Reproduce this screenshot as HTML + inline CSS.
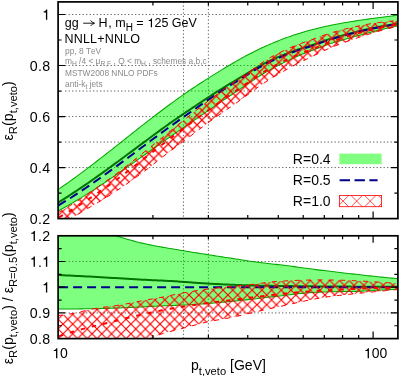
<!DOCTYPE html>
<html><head><meta charset="utf-8"><title>jet veto efficiency</title>
<style>html,body{margin:0;padding:0;background:#fff;}svg{display:block;will-change:transform;}text{font-family:"Liberation Sans", sans-serif;fill:#000;font-kerning:none;}</style></head><body>
<svg width="399" height="376" viewBox="0 0 399 376">
<rect x="0" y="0" width="399" height="376" fill="#fff"/>
<defs>
<clipPath id="cu"><rect x="58.1" y="1.9" width="339.79999999999995" height="216.7"/></clipPath>
<clipPath id="cl"><rect x="58.1" y="235.8" width="339.79999999999995" height="102.80000000000001"/></clipPath>
<pattern id="hxU" patternUnits="userSpaceOnUse" x="115.30" y="177.80" width="9.62" height="9.62"><path d="M0,0 L9.62,9.62 M9.62,0 L0,9.62" stroke="#ff0000" stroke-width="1.2" fill="none" stroke-linecap="square"/></pattern>
<pattern id="hxL" patternUnits="userSpaceOnUse" x="63.00" y="333.80" width="9.7" height="9.7"><path d="M0,0 L9.7,9.7 M9.7,0 L0,9.7" stroke="#ff0000" stroke-width="1.2" fill="none" stroke-linecap="square"/></pattern>
<clipPath id="cru"><path d="M58.10,212.66 L60.10,211.54 L62.10,210.40 L64.10,209.24 L66.10,208.06 L68.09,206.87 L70.09,205.65 L72.09,204.42 L74.09,203.17 L76.09,201.89 L78.09,200.58 L80.09,199.26 L82.09,197.91 L84.08,196.54 L86.08,195.17 L88.08,193.78 L90.08,192.38 L92.08,190.98 L94.08,189.58 L96.08,188.19 L98.08,186.79 L100.08,185.39 L102.07,183.98 L104.07,182.57 L106.07,181.16 L108.07,179.73 L110.07,178.30 L112.07,176.86 L114.07,175.40 L116.07,173.94 L118.06,172.46 L120.06,170.96 L122.06,169.45 L124.06,167.92 L126.06,166.38 L128.06,164.82 L130.06,163.25 L132.06,161.68 L134.06,160.09 L136.05,158.50 L138.05,156.91 L140.05,155.32 L142.05,153.73 L144.05,152.14 L146.05,150.55 L148.05,148.96 L150.05,147.37 L152.04,145.77 L154.04,144.18 L156.04,142.58 L158.04,140.98 L160.04,139.38 L162.04,137.76 L164.04,136.15 L166.04,134.53 L168.04,132.90 L170.03,131.28 L172.03,129.65 L174.03,128.03 L176.03,126.41 L178.03,124.80 L180.03,123.19 L182.03,121.59 L184.03,120.00 L186.02,118.41 L188.02,116.82 L190.02,115.24 L192.02,113.65 L194.02,112.07 L196.02,110.49 L198.02,108.91 L200.02,107.34 L202.02,105.77 L204.01,104.22 L206.01,102.67 L208.01,101.13 L210.01,99.61 L212.01,98.10 L214.01,96.60 L216.01,95.11 L218.01,93.63 L220.00,92.17 L222.00,90.72 L224.00,89.28 L226.00,87.85 L228.00,86.44 L230.00,85.03 L232.00,83.63 L234.00,82.23 L236.00,80.85 L237.99,79.47 L239.99,78.10 L241.99,76.72 L243.99,75.34 L245.99,73.96 L247.99,72.56 L249.99,71.16 L251.99,69.75 L253.98,68.34 L255.98,66.92 L257.98,65.51 L259.98,64.12 L261.98,62.75 L263.98,61.42 L265.98,60.13 L267.98,58.88 L269.98,57.69 L271.97,56.55 L273.97,55.46 L275.97,54.42 L277.97,53.43 L279.97,52.46 L281.97,51.50 L283.97,50.57 L285.97,49.65 L287.96,48.74 L289.96,47.85 L291.96,46.98 L293.96,46.14 L295.96,45.33 L297.96,44.55 L299.96,43.81 L301.96,43.09 L303.96,42.40 L305.95,41.71 L307.95,41.02 L309.95,40.32 L311.95,39.61 L313.95,38.87 L315.95,38.12 L317.95,37.37 L319.95,36.62 L321.94,35.89 L323.94,35.18 L325.94,34.50 L327.94,33.85 L329.94,33.22 L331.94,32.63 L333.94,32.05 L335.94,31.49 L337.94,30.94 L339.93,30.40 L341.93,29.87 L343.93,29.35 L345.93,28.85 L347.93,28.36 L349.93,27.89 L351.93,27.43 L353.93,26.99 L355.92,26.56 L357.92,26.13 L359.92,25.72 L361.92,25.32 L363.92,24.94 L365.92,24.57 L367.92,24.22 L369.92,23.89 L371.92,23.56 L373.91,23.26 L375.91,22.96 L377.91,22.67 L379.91,22.40 L381.91,22.14 L383.91,21.89 L385.91,21.65 L387.91,21.43 L389.90,21.22 L391.90,21.02 L393.90,20.84 L395.90,20.66 L397.90,20.50 L397.90,26.25 L395.90,26.73 L393.90,27.22 L391.90,27.72 L389.90,28.23 L387.91,28.75 L385.91,29.28 L383.91,29.81 L381.91,30.36 L379.91,30.92 L377.91,31.48 L375.91,32.06 L373.91,32.65 L371.92,33.25 L369.92,33.86 L367.92,34.47 L365.92,35.10 L363.92,35.74 L361.92,36.39 L359.92,37.04 L357.92,37.71 L355.92,38.39 L353.93,39.07 L351.93,39.76 L349.93,40.47 L347.93,41.18 L345.93,41.90 L343.93,42.63 L341.93,43.37 L339.93,44.11 L337.94,44.85 L335.94,45.61 L333.94,46.38 L331.94,47.17 L329.94,48.00 L327.94,48.87 L325.94,49.79 L323.94,50.73 L321.94,51.70 L319.95,52.67 L317.95,53.63 L315.95,54.59 L313.95,55.55 L311.95,56.52 L309.95,57.50 L307.95,58.48 L305.95,59.47 L303.96,60.46 L301.96,61.45 L299.96,62.44 L297.96,63.45 L295.96,64.47 L293.96,65.52 L291.96,66.58 L289.96,67.67 L287.96,68.77 L285.97,69.89 L283.97,71.02 L281.97,72.15 L279.97,73.29 L277.97,74.43 L275.97,75.58 L273.97,76.75 L271.97,77.94 L269.98,79.17 L267.98,80.44 L265.98,81.75 L263.98,83.08 L261.98,84.45 L259.98,85.82 L257.98,87.22 L255.98,88.63 L253.98,90.08 L251.99,91.55 L249.99,93.03 L247.99,94.50 L245.99,95.96 L243.99,97.40 L241.99,98.85 L239.99,100.29 L237.99,101.73 L236.00,103.16 L234.00,104.57 L232.00,105.98 L230.00,107.36 L228.00,108.74 L226.00,110.12 L224.00,111.50 L222.00,112.89 L220.00,114.28 L218.01,115.67 L216.01,117.07 L214.01,118.47 L212.01,119.89 L210.01,121.33 L208.01,122.79 L206.01,124.27 L204.01,125.77 L202.02,127.28 L200.02,128.79 L198.02,130.30 L196.02,131.82 L194.02,133.34 L192.02,134.87 L190.02,136.40 L188.02,137.93 L186.02,139.44 L184.03,140.93 L182.03,142.42 L180.03,143.90 L178.03,145.37 L176.03,146.85 L174.03,148.34 L172.03,149.82 L170.03,151.30 L168.04,152.78 L166.04,154.27 L164.04,155.78 L162.04,157.31 L160.04,158.89 L158.04,160.51 L156.04,162.15 L154.04,163.79 L152.04,165.39 L150.05,166.94 L148.05,168.45 L146.05,169.95 L144.05,171.44 L142.05,172.91 L140.05,174.38 L138.05,175.84 L136.05,177.29 L134.06,178.73 L132.06,180.15 L130.06,181.57 L128.06,182.98 L126.06,184.37 L124.06,185.75 L122.06,187.12 L120.06,188.48 L118.06,189.82 L116.07,191.16 L114.07,192.48 L112.07,193.78 L110.07,195.08 L108.07,196.36 L106.07,197.63 L104.07,198.88 L102.07,200.08 L100.08,201.26 L98.08,202.41 L96.08,203.56 L94.08,204.70 L92.08,205.86 L90.08,207.05 L88.08,208.24 L86.08,209.44 L84.08,210.65 L82.09,211.86 L80.09,213.08 L78.09,214.29 L76.09,215.51 L74.09,216.72 L72.09,217.94 L70.09,219.15 L68.09,220.36 L66.10,221.58 L64.10,222.79 L62.10,224.01 L60.10,225.22 L58.10,226.44Z"/></clipPath>
<clipPath id="crl"><path d="M58.10,315.59 L60.10,315.35 L62.10,315.09 L64.10,314.82 L66.10,314.53 L68.09,314.23 L70.09,313.91 L72.09,313.57 L74.09,313.21 L76.09,312.80 L78.09,312.36 L80.09,311.89 L82.09,311.41 L84.08,310.92 L86.08,310.43 L88.08,309.95 L90.08,309.49 L92.08,309.06 L94.08,308.66 L96.08,308.32 L98.08,308.00 L100.08,307.70 L102.07,307.42 L104.07,307.16 L106.07,306.90 L108.07,306.65 L110.07,306.39 L112.07,306.14 L114.07,305.87 L116.07,305.60 L118.06,305.30 L120.06,304.99 L122.06,304.65 L124.06,304.30 L126.06,303.93 L128.06,303.54 L130.06,303.15 L132.06,302.75 L134.06,302.35 L136.05,301.95 L138.05,301.55 L140.05,301.17 L142.05,300.79 L144.05,300.43 L146.05,300.07 L148.05,299.72 L150.05,299.37 L152.04,299.03 L154.04,298.68 L156.04,298.32 L158.04,297.96 L160.04,297.59 L162.04,297.21 L164.04,296.81 L166.04,296.41 L168.04,296.00 L170.03,295.58 L172.03,295.16 L174.03,294.74 L176.03,294.33 L178.03,293.93 L180.03,293.54 L182.03,293.16 L184.03,292.80 L186.02,292.44 L188.02,292.10 L190.02,291.75 L192.02,291.42 L194.02,291.09 L196.02,290.76 L198.02,290.44 L200.02,290.14 L202.02,289.84 L204.01,289.55 L206.01,289.27 L208.01,289.00 L210.01,288.74 L212.01,288.49 L214.01,288.24 L216.01,288.01 L218.01,287.78 L220.00,287.55 L222.00,287.33 L224.00,287.12 L226.00,286.91 L228.00,286.70 L230.00,286.50 L232.00,286.30 L234.00,286.11 L236.00,285.93 L237.99,285.76 L239.99,285.59 L241.99,285.43 L243.99,285.26 L245.99,285.08 L247.99,284.90 L249.99,284.70 L251.99,284.48 L253.98,284.24 L255.98,283.98 L257.98,283.71 L259.98,283.43 L261.98,283.14 L263.98,282.86 L265.98,282.58 L267.98,282.32 L269.98,282.08 L271.97,281.86 L273.97,281.66 L275.97,281.50 L277.97,281.36 L279.97,281.23 L281.97,281.11 L283.97,280.99 L285.97,280.88 L287.96,280.77 L289.96,280.68 L291.96,280.59 L293.96,280.50 L295.96,280.43 L297.96,280.36 L299.96,280.30 L301.96,280.24 L303.96,280.19 L305.95,280.13 L307.95,280.08 L309.95,280.03 L311.95,279.99 L313.95,279.95 L315.95,279.92 L317.95,279.91 L319.95,279.90 L321.94,279.90 L323.94,279.92 L325.94,279.94 L327.94,279.96 L329.94,279.99 L331.94,280.03 L333.94,280.07 L335.94,280.11 L337.94,280.15 L339.93,280.20 L341.93,280.25 L343.93,280.31 L345.93,280.37 L347.93,280.45 L349.93,280.53 L351.93,280.62 L353.93,280.71 L355.92,280.80 L357.92,280.90 L359.92,281.00 L361.92,281.10 L363.92,281.20 L365.92,281.31 L367.92,281.43 L369.92,281.55 L371.92,281.68 L373.91,281.80 L375.91,281.93 L377.91,282.06 L379.91,282.19 L381.91,282.33 L383.91,282.46 L385.91,282.60 L387.91,282.74 L389.90,282.89 L391.90,283.04 L393.90,283.19 L395.90,283.34 L397.90,283.49 L397.90,289.51 L395.90,289.70 L393.90,289.88 L391.90,290.07 L389.90,290.26 L387.91,290.45 L385.91,290.64 L383.91,290.83 L381.91,291.03 L379.91,291.22 L377.91,291.42 L375.91,291.61 L373.91,291.81 L371.92,292.01 L369.92,292.21 L367.92,292.41 L365.92,292.61 L363.92,292.81 L361.92,293.01 L359.92,293.22 L357.92,293.42 L355.92,293.63 L353.93,293.83 L351.93,294.04 L349.93,294.25 L347.93,294.47 L345.93,294.68 L343.93,294.90 L341.93,295.12 L339.93,295.33 L337.94,295.55 L335.94,295.77 L333.94,296.00 L331.94,296.25 L329.94,296.51 L327.94,296.79 L325.94,297.08 L323.94,297.40 L321.94,297.72 L319.95,298.06 L317.95,298.41 L315.95,298.77 L313.95,299.14 L311.95,299.51 L309.95,299.89 L307.95,300.29 L305.95,300.71 L303.96,301.13 L301.96,301.57 L299.96,302.02 L297.96,302.46 L295.96,302.92 L293.96,303.37 L291.96,303.82 L289.96,304.27 L287.96,304.71 L285.97,305.14 L283.97,305.58 L281.97,306.02 L279.97,306.45 L277.97,306.89 L275.97,307.33 L273.97,307.77 L271.97,308.21 L269.98,308.65 L267.98,309.10 L265.98,309.55 L263.98,310.00 L261.98,310.47 L259.98,310.94 L257.98,311.41 L255.98,311.89 L253.98,312.37 L251.99,312.84 L249.99,313.30 L247.99,313.76 L245.99,314.22 L243.99,314.68 L241.99,315.13 L239.99,315.58 L237.99,316.03 L236.00,316.46 L234.00,316.89 L232.00,317.30 L230.00,317.70 L228.00,318.08 L226.00,318.45 L224.00,318.81 L222.00,319.16 L220.00,319.51 L218.01,319.86 L216.01,320.22 L214.01,320.59 L212.01,320.97 L210.01,321.38 L208.01,321.80 L206.01,322.24 L204.01,322.71 L202.02,323.20 L200.02,323.71 L198.02,324.22 L196.02,324.75 L194.02,325.29 L192.02,325.83 L190.02,326.38 L188.02,326.92 L186.02,327.46 L184.03,327.99 L182.03,328.51 L180.03,329.02 L178.03,329.52 L176.03,330.02 L174.03,330.52 L172.03,331.03 L170.03,331.55 L168.04,332.08 L166.04,332.64 L164.04,333.22 L162.04,333.84 L160.04,334.49 L158.04,335.26 L156.04,336.17 L154.04,337.11 L152.04,337.95 L150.05,338.59 L148.05,339.06 L146.05,339.50 L144.05,339.92 L142.05,340.31 L140.05,340.68 L138.05,341.03 L136.05,341.36 L134.06,341.67 L132.06,341.97 L130.06,342.25 L128.06,342.52 L126.06,342.78 L124.06,343.03 L122.06,343.27 L120.06,343.51 L118.06,343.74 L116.07,343.97 L114.07,344.21 L112.07,344.44 L110.07,344.68 L108.07,344.92 L106.07,345.18 L104.07,345.44 L102.07,345.71 L100.08,345.99 L98.08,346.28 L96.08,346.57 L94.08,346.86 L92.08,347.15 L90.08,347.44 L88.08,347.72 L86.08,348.01 L84.08,348.30 L82.09,348.58 L80.09,348.87 L78.09,349.16 L76.09,349.44 L74.09,349.73 L72.09,350.01 L70.09,350.29 L68.09,350.58 L66.10,350.86 L64.10,351.14 L62.10,351.42 L60.10,351.70 L58.10,351.99Z"/></clipPath>
</defs>
<path d="M65.1,14.50 H397.9 M65.1,65.52 H397.9 M65.1,91.03 H397.9 M65.1,116.54 H397.9 M65.1,142.05 H397.9 M65.1,167.56 H397.9 M65.1,261.50 H397.9 M65.1,312.90 H397.9 M183.45,1.9 V218.6 M183.45,235.8 V338.6 M208.39,1.9 V218.6 M208.39,235.8 V338.6" stroke="#000" stroke-width="0.8" stroke-dasharray="1.2 2.3" fill="none" opacity="0.62"/>
<g clip-path="url(#cu)">
<path d="M58.10,189.46 L60.10,188.11 L62.10,186.74 L64.10,185.36 L66.10,183.96 L68.09,182.56 L70.09,181.14 L72.09,179.71 L74.09,178.27 L76.09,176.81 L78.09,175.35 L80.09,173.88 L82.09,172.39 L84.08,170.90 L86.08,169.40 L88.08,167.89 L90.08,166.38 L92.08,164.86 L94.08,163.33 L96.08,161.79 L98.08,160.25 L100.08,158.70 L102.07,157.14 L104.07,155.58 L106.07,154.02 L108.07,152.46 L110.07,150.88 L112.07,149.31 L114.07,147.74 L116.07,146.16 L118.06,144.58 L120.06,143.00 L122.06,141.41 L124.06,139.83 L126.06,138.25 L128.06,136.67 L130.06,135.08 L132.06,133.50 L134.06,131.93 L136.05,130.35 L138.05,128.77 L140.05,127.20 L142.05,125.64 L144.05,124.07 L146.05,122.51 L148.05,120.96 L150.05,119.41 L152.04,117.86 L154.04,116.32 L156.04,114.79 L158.04,113.27 L160.04,111.75 L162.04,110.24 L164.04,108.74 L166.04,107.24 L168.04,105.76 L170.03,104.28 L172.03,102.82 L174.03,101.36 L176.03,99.92 L178.03,98.48 L180.03,97.06 L182.03,95.65 L184.03,94.25 L186.02,92.87 L188.02,91.49 L190.02,90.13 L192.02,88.78 L194.02,87.44 L196.02,86.11 L198.02,84.80 L200.02,83.49 L202.02,82.19 L204.01,80.90 L206.01,79.62 L208.01,78.35 L210.01,77.08 L212.01,75.83 L214.01,74.58 L216.01,73.34 L218.01,72.11 L220.00,70.88 L222.00,69.66 L224.00,68.45 L226.00,67.24 L228.00,66.04 L230.00,64.86 L232.00,63.68 L234.00,62.52 L236.00,61.37 L237.99,60.23 L239.99,59.10 L241.99,58.00 L243.99,56.90 L245.99,55.83 L247.99,54.77 L249.99,53.73 L251.99,52.70 L253.98,51.69 L255.98,50.70 L257.98,49.73 L259.98,48.77 L261.98,47.83 L263.98,46.91 L265.98,46.00 L267.98,45.11 L269.98,44.24 L271.97,43.38 L273.97,42.54 L275.97,41.72 L277.97,40.91 L279.97,40.12 L281.97,39.35 L283.97,38.59 L285.97,37.85 L287.96,37.13 L289.96,36.42 L291.96,35.73 L293.96,35.06 L295.96,34.40 L297.96,33.76 L299.96,33.13 L301.96,32.52 L303.96,31.93 L305.95,31.35 L307.95,30.79 L309.95,30.24 L311.95,29.71 L313.95,29.19 L315.95,28.68 L317.95,28.19 L319.95,27.71 L321.94,27.25 L323.94,26.79 L325.94,26.35 L327.94,25.92 L329.94,25.50 L331.94,25.09 L333.94,24.69 L335.94,24.31 L337.94,23.93 L339.93,23.56 L341.93,23.20 L343.93,22.84 L345.93,22.50 L347.93,22.16 L349.93,21.83 L351.93,21.51 L353.93,21.19 L355.92,20.88 L357.92,20.58 L359.92,20.28 L361.92,19.98 L363.92,19.69 L365.92,19.41 L367.92,19.13 L369.92,18.85 L371.92,18.57 L373.91,18.30 L375.91,18.03 L377.91,17.76 L379.91,17.49 L381.91,17.23 L383.91,16.96 L385.91,16.70 L387.91,16.43 L389.90,16.17 L391.90,15.90 L393.90,15.63 L395.90,15.36 L397.90,15.09 L397.90,25.96 L395.90,26.36 L393.90,26.78 L391.90,27.20 L389.90,27.63 L387.91,28.06 L385.91,28.51 L383.91,28.97 L381.91,29.43 L379.91,29.90 L377.91,30.39 L375.91,30.88 L373.91,31.38 L371.92,31.90 L369.92,32.43 L367.92,32.97 L365.92,33.52 L363.92,34.08 L361.92,34.64 L359.92,35.20 L357.92,35.76 L355.92,36.31 L353.93,36.86 L351.93,37.40 L349.93,37.95 L347.93,38.50 L345.93,39.06 L343.93,39.62 L341.93,40.19 L339.93,40.76 L337.94,41.34 L335.94,41.93 L333.94,42.53 L331.94,43.15 L329.94,43.79 L327.94,44.45 L325.94,45.15 L323.94,45.87 L321.94,46.62 L319.95,47.39 L317.95,48.17 L315.95,48.96 L313.95,49.74 L311.95,50.50 L309.95,51.26 L307.95,52.02 L305.95,52.78 L303.96,53.56 L301.96,54.35 L299.96,55.18 L297.96,56.03 L295.96,56.92 L293.96,57.84 L291.96,58.77 L289.96,59.72 L287.96,60.67 L285.97,61.63 L283.97,62.60 L281.97,63.59 L279.97,64.58 L277.97,65.59 L275.97,66.62 L273.97,67.67 L271.97,68.74 L269.98,69.84 L267.98,70.97 L265.98,72.13 L263.98,73.32 L261.98,74.55 L259.98,75.81 L257.98,77.09 L255.98,78.40 L253.98,79.73 L251.99,81.07 L249.99,82.42 L247.99,83.77 L245.99,85.11 L243.99,86.46 L241.99,87.80 L239.99,89.14 L237.99,90.47 L236.00,91.80 L234.00,93.13 L232.00,94.46 L230.00,95.79 L228.00,97.12 L226.00,98.46 L224.00,99.80 L222.00,101.15 L220.00,102.50 L218.01,103.86 L216.01,105.22 L214.01,106.59 L212.01,107.96 L210.01,109.33 L208.01,110.71 L206.01,112.08 L204.01,113.47 L202.02,114.85 L200.02,116.23 L198.02,117.62 L196.02,119.00 L194.02,120.38 L192.02,121.76 L190.02,123.14 L188.02,124.52 L186.02,125.89 L184.03,127.26 L182.03,128.63 L180.03,129.99 L178.03,131.36 L176.03,132.73 L174.03,134.10 L172.03,135.47 L170.03,136.85 L168.04,138.23 L166.04,139.62 L164.04,141.01 L162.04,142.41 L160.04,143.81 L158.04,145.23 L156.04,146.64 L154.04,148.07 L152.04,149.49 L150.05,150.92 L148.05,152.35 L146.05,153.78 L144.05,155.22 L142.05,156.65 L140.05,158.08 L138.05,159.50 L136.05,160.93 L134.06,162.35 L132.06,163.76 L130.06,165.17 L128.06,166.58 L126.06,167.98 L124.06,169.38 L122.06,170.78 L120.06,172.17 L118.06,173.55 L116.07,174.93 L114.07,176.31 L112.07,177.68 L110.07,179.04 L108.07,180.39 L106.07,181.73 L104.07,183.07 L102.07,184.39 L100.08,185.71 L98.08,187.02 L96.08,188.31 L94.08,189.60 L92.08,190.88 L90.08,192.14 L88.08,193.40 L86.08,194.65 L84.08,195.89 L82.09,197.12 L80.09,198.34 L78.09,199.55 L76.09,200.75 L74.09,201.94 L72.09,203.11 L70.09,204.28 L68.09,205.43 L66.10,206.57 L64.10,207.70 L62.10,208.82 L60.10,209.93 L58.10,211.02Z" fill="#00ff00" fill-opacity="0.5" stroke="none"/>
<path d="M58.10,189.46 L60.10,188.11 L62.10,186.74 L64.10,185.36 L66.10,183.96 L68.09,182.56 L70.09,181.14 L72.09,179.71 L74.09,178.27 L76.09,176.81 L78.09,175.35 L80.09,173.88 L82.09,172.39 L84.08,170.90 L86.08,169.40 L88.08,167.89 L90.08,166.38 L92.08,164.86 L94.08,163.33 L96.08,161.79 L98.08,160.25 L100.08,158.70 L102.07,157.14 L104.07,155.58 L106.07,154.02 L108.07,152.46 L110.07,150.88 L112.07,149.31 L114.07,147.74 L116.07,146.16 L118.06,144.58 L120.06,143.00 L122.06,141.41 L124.06,139.83 L126.06,138.25 L128.06,136.67 L130.06,135.08 L132.06,133.50 L134.06,131.93 L136.05,130.35 L138.05,128.77 L140.05,127.20 L142.05,125.64 L144.05,124.07 L146.05,122.51 L148.05,120.96 L150.05,119.41 L152.04,117.86 L154.04,116.32 L156.04,114.79 L158.04,113.27 L160.04,111.75 L162.04,110.24 L164.04,108.74 L166.04,107.24 L168.04,105.76 L170.03,104.28 L172.03,102.82 L174.03,101.36 L176.03,99.92 L178.03,98.48 L180.03,97.06 L182.03,95.65 L184.03,94.25 L186.02,92.87 L188.02,91.49 L190.02,90.13 L192.02,88.78 L194.02,87.44 L196.02,86.11 L198.02,84.80 L200.02,83.49 L202.02,82.19 L204.01,80.90 L206.01,79.62 L208.01,78.35 L210.01,77.08 L212.01,75.83 L214.01,74.58 L216.01,73.34 L218.01,72.11 L220.00,70.88 L222.00,69.66 L224.00,68.45 L226.00,67.24 L228.00,66.04 L230.00,64.86 L232.00,63.68 L234.00,62.52 L236.00,61.37 L237.99,60.23 L239.99,59.10 L241.99,58.00 L243.99,56.90 L245.99,55.83 L247.99,54.77 L249.99,53.73 L251.99,52.70 L253.98,51.69 L255.98,50.70 L257.98,49.73 L259.98,48.77 L261.98,47.83 L263.98,46.91 L265.98,46.00 L267.98,45.11 L269.98,44.24 L271.97,43.38 L273.97,42.54 L275.97,41.72 L277.97,40.91 L279.97,40.12 L281.97,39.35 L283.97,38.59 L285.97,37.85 L287.96,37.13 L289.96,36.42 L291.96,35.73 L293.96,35.06 L295.96,34.40 L297.96,33.76 L299.96,33.13 L301.96,32.52 L303.96,31.93 L305.95,31.35 L307.95,30.79 L309.95,30.24 L311.95,29.71 L313.95,29.19 L315.95,28.68 L317.95,28.19 L319.95,27.71 L321.94,27.25 L323.94,26.79 L325.94,26.35 L327.94,25.92 L329.94,25.50 L331.94,25.09 L333.94,24.69 L335.94,24.31 L337.94,23.93 L339.93,23.56 L341.93,23.20 L343.93,22.84 L345.93,22.50 L347.93,22.16 L349.93,21.83 L351.93,21.51 L353.93,21.19 L355.92,20.88 L357.92,20.58 L359.92,20.28 L361.92,19.98 L363.92,19.69 L365.92,19.41 L367.92,19.13 L369.92,18.85 L371.92,18.57 L373.91,18.30 L375.91,18.03 L377.91,17.76 L379.91,17.49 L381.91,17.23 L383.91,16.96 L385.91,16.70 L387.91,16.43 L389.90,16.17 L391.90,15.90 L393.90,15.63 L395.90,15.36 L397.90,15.09" fill="none" stroke="#00a800" stroke-width="1.05"/>
<path d="M58.10,211.02 L60.10,209.93 L62.10,208.82 L64.10,207.70 L66.10,206.57 L68.09,205.43 L70.09,204.28 L72.09,203.11 L74.09,201.94 L76.09,200.75 L78.09,199.55 L80.09,198.34 L82.09,197.12 L84.08,195.89 L86.08,194.65 L88.08,193.40 L90.08,192.14 L92.08,190.88 L94.08,189.60 L96.08,188.31 L98.08,187.02 L100.08,185.71 L102.07,184.39 L104.07,183.07 L106.07,181.73 L108.07,180.39 L110.07,179.04 L112.07,177.68 L114.07,176.31 L116.07,174.93 L118.06,173.55 L120.06,172.17 L122.06,170.78 L124.06,169.38 L126.06,167.98 L128.06,166.58 L130.06,165.17 L132.06,163.76 L134.06,162.35 L136.05,160.93 L138.05,159.50 L140.05,158.08 L142.05,156.65 L144.05,155.22 L146.05,153.78 L148.05,152.35 L150.05,150.92 L152.04,149.49 L154.04,148.07 L156.04,146.64 L158.04,145.23 L160.04,143.81 L162.04,142.41 L164.04,141.01 L166.04,139.62 L168.04,138.23 L170.03,136.85 L172.03,135.47 L174.03,134.10 L176.03,132.73 L178.03,131.36 L180.03,129.99 L182.03,128.63 L184.03,127.26 L186.02,125.89 L188.02,124.52 L190.02,123.14 L192.02,121.76 L194.02,120.38 L196.02,119.00 L198.02,117.62 L200.02,116.23 L202.02,114.85 L204.01,113.47 L206.01,112.08 L208.01,110.71 L210.01,109.33 L212.01,107.96 L214.01,106.59 L216.01,105.22 L218.01,103.86 L220.00,102.50 L222.00,101.15 L224.00,99.80 L226.00,98.46 L228.00,97.12 L230.00,95.79 L232.00,94.46 L234.00,93.13 L236.00,91.80 L237.99,90.47 L239.99,89.14 L241.99,87.80 L243.99,86.46 L245.99,85.11 L247.99,83.77 L249.99,82.42 L251.99,81.07 L253.98,79.73 L255.98,78.40 L257.98,77.09 L259.98,75.81 L261.98,74.55 L263.98,73.32 L265.98,72.13 L267.98,70.97 L269.98,69.84 L271.97,68.74 L273.97,67.67 L275.97,66.62 L277.97,65.59 L279.97,64.58 L281.97,63.59 L283.97,62.60 L285.97,61.63 L287.96,60.67 L289.96,59.72 L291.96,58.77 L293.96,57.84 L295.96,56.92 L297.96,56.03 L299.96,55.18 L301.96,54.35 L303.96,53.56 L305.95,52.78 L307.95,52.02 L309.95,51.26 L311.95,50.50 L313.95,49.74 L315.95,48.96 L317.95,48.17 L319.95,47.39 L321.94,46.62 L323.94,45.87 L325.94,45.15 L327.94,44.45 L329.94,43.79 L331.94,43.15 L333.94,42.53 L335.94,41.93 L337.94,41.34 L339.93,40.76 L341.93,40.19 L343.93,39.62 L345.93,39.06 L347.93,38.50 L349.93,37.95 L351.93,37.40 L353.93,36.86 L355.92,36.31 L357.92,35.76 L359.92,35.20 L361.92,34.64 L363.92,34.08 L365.92,33.52 L367.92,32.97 L369.92,32.43 L371.92,31.90 L373.91,31.38 L375.91,30.88 L377.91,30.39 L379.91,29.90 L381.91,29.43 L383.91,28.97 L385.91,28.51 L387.91,28.06 L389.90,27.63 L391.90,27.20 L393.90,26.78 L395.90,26.36 L397.90,25.96" fill="none" stroke="#00a800" stroke-width="1.05"/>
<path d="M58.10,202.55 L60.10,201.32 L62.10,200.09 L64.10,198.84 L66.10,197.57 L68.09,196.30 L70.09,195.01 L72.09,193.71 L74.09,192.40 L76.09,191.08 L78.09,189.75 L80.09,188.41 L82.09,187.06 L84.08,185.70 L86.08,184.33 L88.08,182.95 L90.08,181.56 L92.08,180.17 L94.08,178.76 L96.08,177.35 L98.08,175.94 L100.08,174.51 L102.07,173.08 L104.07,171.65 L106.07,170.21 L108.07,168.76 L110.07,167.31 L112.07,165.85 L114.07,164.39 L116.07,162.92 L118.06,161.45 L120.06,159.98 L122.06,158.51 L124.06,157.03 L126.06,155.55 L128.06,154.07 L130.06,152.58 L132.06,151.10 L134.06,149.61 L136.05,148.12 L138.05,146.64 L140.05,145.15 L142.05,143.66 L144.05,142.17 L146.05,140.69 L148.05,139.20 L150.05,137.72 L152.04,136.24 L154.04,134.76 L156.04,133.28 L158.04,131.82 L160.04,130.35 L162.04,128.90 L164.04,127.45 L166.04,126.01 L168.04,124.59 L170.03,123.17 L172.03,121.76 L174.03,120.37 L176.03,118.98 L178.03,117.61 L180.03,116.24 L182.03,114.88 L184.03,113.53 L186.02,112.18 L188.02,110.84 L190.02,109.50 L192.02,108.16 L194.02,106.82 L196.02,105.49 L198.02,104.16 L200.02,102.83 L202.02,101.51 L204.01,100.18 L206.01,98.86 L208.01,97.55 L210.01,96.24 L212.01,94.94 L214.01,93.65 L216.01,92.37 L218.01,91.11 L220.00,89.85 L222.00,88.61 L224.00,87.37 L226.00,86.15 L228.00,84.93 L230.00,83.72 L232.00,82.52 L234.00,81.32 L236.00,80.12 L237.99,78.92 L239.99,77.72 L241.99,76.52 L243.99,75.32 L245.99,74.11 L247.99,72.91 L249.99,71.70 L251.99,70.50 L253.98,69.31 L255.98,68.13 L257.98,66.98 L259.98,65.85 L261.98,64.75 L263.98,63.68 L265.98,62.66 L267.98,61.66 L269.98,60.71 L271.97,59.79 L273.97,58.90 L275.97,58.03 L277.97,57.19 L279.97,56.37 L281.97,55.56 L283.97,54.76 L285.97,53.96 L287.96,53.18 L289.96,52.41 L291.96,51.66 L293.96,50.92 L295.96,50.21 L297.96,49.53 L299.96,48.87 L301.96,48.24 L303.96,47.63 L305.95,47.02 L307.95,46.42 L309.95,45.79 L311.95,45.15 L313.95,44.48 L315.95,43.79 L317.95,43.08 L319.95,42.37 L321.94,41.67 L323.94,40.98 L325.94,40.31 L327.94,39.67 L329.94,39.04 L331.94,38.44 L333.94,37.86 L335.94,37.28 L337.94,36.72 L339.93,36.16 L341.93,35.61 L343.93,35.07 L345.93,34.53 L347.93,34.00 L349.93,33.48 L351.93,32.96 L353.93,32.45 L355.92,31.95 L357.92,31.46 L359.92,30.98 L361.92,30.51 L363.92,30.05 L365.92,29.60 L367.92,29.16 L369.92,28.73 L371.92,28.30 L373.91,27.89 L375.91,27.49 L377.91,27.09 L379.91,26.71 L381.91,26.33 L383.91,25.97 L385.91,25.61 L387.91,25.27 L389.90,24.93 L391.90,24.60 L393.90,24.28 L395.90,23.96 L397.90,23.66" fill="none" stroke="#007400" stroke-width="2.0"/>
<path d="M58.10,205.59 L60.10,204.39 L62.10,203.19 L64.10,201.97 L66.10,200.74 L68.09,199.49 L70.09,198.24 L72.09,196.97 L74.09,195.69 L76.09,194.40 L78.09,193.09 L80.09,191.78 L82.09,190.45 L84.08,189.12 L86.08,187.77 L88.08,186.42 L90.08,185.05 L92.08,183.67 L94.08,182.29 L96.08,180.90 L98.08,179.50 L100.08,178.09 L102.07,176.67 L104.07,175.25 L106.07,173.81 L108.07,172.38 L110.07,170.93 L112.07,169.48 L114.07,168.02 L116.07,166.56 L118.06,165.10 L120.06,163.63 L122.06,162.15 L124.06,160.67 L126.06,159.19 L128.06,157.70 L130.06,156.22 L132.06,154.73 L134.06,153.24 L136.05,151.74 L138.05,150.25 L140.05,148.75 L142.05,147.26 L144.05,145.76 L146.05,144.27 L148.05,142.78 L150.05,141.29 L152.04,139.80 L154.04,138.32 L156.04,136.84 L158.04,135.36 L160.04,133.89 L162.04,132.42 L164.04,130.96 L166.04,129.51 L168.04,128.06 L170.03,126.62 L172.03,125.18 L174.03,123.75 L176.03,122.33 L178.03,120.91 L180.03,119.49 L182.03,118.08 L184.03,116.67 L186.02,115.26 L188.02,113.86 L190.02,112.45 L192.02,111.05 L194.02,109.65 L196.02,108.25 L198.02,106.86 L200.02,105.46 L202.02,104.08 L204.01,102.69 L206.01,101.32 L208.01,99.95 L210.01,98.59 L212.01,97.23 L214.01,95.89 L216.01,94.56 L218.01,93.24 L220.00,91.93 L222.00,90.63 L224.00,89.34 L226.00,88.06 L228.00,86.79 L230.00,85.53 L232.00,84.27 L234.00,83.02 L236.00,81.78 L237.99,80.53 L239.99,79.29 L241.99,78.04 L243.99,76.80 L245.99,75.56 L247.99,74.31 L249.99,73.08 L251.99,71.85 L253.98,70.63 L255.98,69.42 L257.98,68.24 L259.98,67.09 L261.98,65.97 L263.98,64.88 L265.98,63.82 L267.98,62.81 L269.98,61.83 L271.97,60.89 L273.97,59.98 L275.97,59.09 L277.97,58.23 L279.97,57.39 L281.97,56.56 L283.97,55.74 L285.97,54.93 L287.96,54.13 L289.96,53.34 L291.96,52.57 L293.96,51.81 L295.96,51.09 L297.96,50.38 L299.96,49.71 L301.96,49.06 L303.96,48.43 L305.95,47.81 L307.95,47.19 L309.95,46.55 L311.95,45.89 L313.95,45.20 L315.95,44.50 L317.95,43.78 L319.95,43.05 L321.94,42.34 L323.94,41.64 L325.94,40.96 L327.94,40.30 L329.94,39.67 L331.94,39.06 L333.94,38.46 L335.94,37.88 L337.94,37.31 L339.93,36.74 L341.93,36.18 L343.93,35.63 L345.93,35.08 L347.93,34.54 L349.93,34.01 L351.93,33.48 L353.93,32.96 L355.92,32.46 L357.92,31.96 L359.92,31.47 L361.92,30.99 L363.92,30.52 L365.92,30.06 L367.92,29.61 L369.92,29.17 L371.92,28.74 L373.91,28.32 L375.91,27.91 L377.91,27.51 L379.91,27.12 L381.91,26.74 L383.91,26.37 L385.91,26.01 L387.91,25.66 L389.90,25.32 L391.90,24.99 L393.90,24.66 L395.90,24.35 L397.90,24.04" fill="none" stroke="#00008b" stroke-width="2.0" stroke-dasharray="9 5" stroke-dashoffset="0"/>
<path d="M58.10,212.66 L60.10,211.54 L62.10,210.40 L64.10,209.24 L66.10,208.06 L68.09,206.87 L70.09,205.65 L72.09,204.42 L74.09,203.17 L76.09,201.89 L78.09,200.58 L80.09,199.26 L82.09,197.91 L84.08,196.54 L86.08,195.17 L88.08,193.78 L90.08,192.38 L92.08,190.98 L94.08,189.58 L96.08,188.19 L98.08,186.79 L100.08,185.39 L102.07,183.98 L104.07,182.57 L106.07,181.16 L108.07,179.73 L110.07,178.30 L112.07,176.86 L114.07,175.40 L116.07,173.94 L118.06,172.46 L120.06,170.96 L122.06,169.45 L124.06,167.92 L126.06,166.38 L128.06,164.82 L130.06,163.25 L132.06,161.68 L134.06,160.09 L136.05,158.50 L138.05,156.91 L140.05,155.32 L142.05,153.73 L144.05,152.14 L146.05,150.55 L148.05,148.96 L150.05,147.37 L152.04,145.77 L154.04,144.18 L156.04,142.58 L158.04,140.98 L160.04,139.38 L162.04,137.76 L164.04,136.15 L166.04,134.53 L168.04,132.90 L170.03,131.28 L172.03,129.65 L174.03,128.03 L176.03,126.41 L178.03,124.80 L180.03,123.19 L182.03,121.59 L184.03,120.00 L186.02,118.41 L188.02,116.82 L190.02,115.24 L192.02,113.65 L194.02,112.07 L196.02,110.49 L198.02,108.91 L200.02,107.34 L202.02,105.77 L204.01,104.22 L206.01,102.67 L208.01,101.13 L210.01,99.61 L212.01,98.10 L214.01,96.60 L216.01,95.11 L218.01,93.63 L220.00,92.17 L222.00,90.72 L224.00,89.28 L226.00,87.85 L228.00,86.44 L230.00,85.03 L232.00,83.63 L234.00,82.23 L236.00,80.85 L237.99,79.47 L239.99,78.10 L241.99,76.72 L243.99,75.34 L245.99,73.96 L247.99,72.56 L249.99,71.16 L251.99,69.75 L253.98,68.34 L255.98,66.92 L257.98,65.51 L259.98,64.12 L261.98,62.75 L263.98,61.42 L265.98,60.13 L267.98,58.88 L269.98,57.69 L271.97,56.55 L273.97,55.46 L275.97,54.42 L277.97,53.43 L279.97,52.46 L281.97,51.50 L283.97,50.57 L285.97,49.65 L287.96,48.74 L289.96,47.85 L291.96,46.98 L293.96,46.14 L295.96,45.33 L297.96,44.55 L299.96,43.81 L301.96,43.09 L303.96,42.40 L305.95,41.71 L307.95,41.02 L309.95,40.32 L311.95,39.61 L313.95,38.87 L315.95,38.12 L317.95,37.37 L319.95,36.62 L321.94,35.89 L323.94,35.18 L325.94,34.50 L327.94,33.85 L329.94,33.22 L331.94,32.63 L333.94,32.05 L335.94,31.49 L337.94,30.94 L339.93,30.40 L341.93,29.87 L343.93,29.35 L345.93,28.85 L347.93,28.36 L349.93,27.89 L351.93,27.43 L353.93,26.99 L355.92,26.56 L357.92,26.13 L359.92,25.72 L361.92,25.32 L363.92,24.94 L365.92,24.57 L367.92,24.22 L369.92,23.89 L371.92,23.56 L373.91,23.26 L375.91,22.96 L377.91,22.67 L379.91,22.40 L381.91,22.14 L383.91,21.89 L385.91,21.65 L387.91,21.43 L389.90,21.22 L391.90,21.02 L393.90,20.84 L395.90,20.66 L397.90,20.50 L397.90,26.25 L395.90,26.73 L393.90,27.22 L391.90,27.72 L389.90,28.23 L387.91,28.75 L385.91,29.28 L383.91,29.81 L381.91,30.36 L379.91,30.92 L377.91,31.48 L375.91,32.06 L373.91,32.65 L371.92,33.25 L369.92,33.86 L367.92,34.47 L365.92,35.10 L363.92,35.74 L361.92,36.39 L359.92,37.04 L357.92,37.71 L355.92,38.39 L353.93,39.07 L351.93,39.76 L349.93,40.47 L347.93,41.18 L345.93,41.90 L343.93,42.63 L341.93,43.37 L339.93,44.11 L337.94,44.85 L335.94,45.61 L333.94,46.38 L331.94,47.17 L329.94,48.00 L327.94,48.87 L325.94,49.79 L323.94,50.73 L321.94,51.70 L319.95,52.67 L317.95,53.63 L315.95,54.59 L313.95,55.55 L311.95,56.52 L309.95,57.50 L307.95,58.48 L305.95,59.47 L303.96,60.46 L301.96,61.45 L299.96,62.44 L297.96,63.45 L295.96,64.47 L293.96,65.52 L291.96,66.58 L289.96,67.67 L287.96,68.77 L285.97,69.89 L283.97,71.02 L281.97,72.15 L279.97,73.29 L277.97,74.43 L275.97,75.58 L273.97,76.75 L271.97,77.94 L269.98,79.17 L267.98,80.44 L265.98,81.75 L263.98,83.08 L261.98,84.45 L259.98,85.82 L257.98,87.22 L255.98,88.63 L253.98,90.08 L251.99,91.55 L249.99,93.03 L247.99,94.50 L245.99,95.96 L243.99,97.40 L241.99,98.85 L239.99,100.29 L237.99,101.73 L236.00,103.16 L234.00,104.57 L232.00,105.98 L230.00,107.36 L228.00,108.74 L226.00,110.12 L224.00,111.50 L222.00,112.89 L220.00,114.28 L218.01,115.67 L216.01,117.07 L214.01,118.47 L212.01,119.89 L210.01,121.33 L208.01,122.79 L206.01,124.27 L204.01,125.77 L202.02,127.28 L200.02,128.79 L198.02,130.30 L196.02,131.82 L194.02,133.34 L192.02,134.87 L190.02,136.40 L188.02,137.93 L186.02,139.44 L184.03,140.93 L182.03,142.42 L180.03,143.90 L178.03,145.37 L176.03,146.85 L174.03,148.34 L172.03,149.82 L170.03,151.30 L168.04,152.78 L166.04,154.27 L164.04,155.78 L162.04,157.31 L160.04,158.89 L158.04,160.51 L156.04,162.15 L154.04,163.79 L152.04,165.39 L150.05,166.94 L148.05,168.45 L146.05,169.95 L144.05,171.44 L142.05,172.91 L140.05,174.38 L138.05,175.84 L136.05,177.29 L134.06,178.73 L132.06,180.15 L130.06,181.57 L128.06,182.98 L126.06,184.37 L124.06,185.75 L122.06,187.12 L120.06,188.48 L118.06,189.82 L116.07,191.16 L114.07,192.48 L112.07,193.78 L110.07,195.08 L108.07,196.36 L106.07,197.63 L104.07,198.88 L102.07,200.08 L100.08,201.26 L98.08,202.41 L96.08,203.56 L94.08,204.70 L92.08,205.86 L90.08,207.05 L88.08,208.24 L86.08,209.44 L84.08,210.65 L82.09,211.86 L80.09,213.08 L78.09,214.29 L76.09,215.51 L74.09,216.72 L72.09,217.94 L70.09,219.15 L68.09,220.36 L66.10,221.58 L64.10,222.79 L62.10,224.01 L60.10,225.22 L58.10,226.44Z" fill="url(#hxU)" stroke="none"/>
<path d="M58.10,212.66 L60.10,211.54 L62.10,210.40 L64.10,209.24 L66.10,208.06 L68.09,206.87 L70.09,205.65 L72.09,204.42 L74.09,203.17 L76.09,201.89 L78.09,200.58 L80.09,199.26 L82.09,197.91 L84.08,196.54 L86.08,195.17 L88.08,193.78 L90.08,192.38 L92.08,190.98 L94.08,189.58 L96.08,188.19 L98.08,186.79 L100.08,185.39 L102.07,183.98 L104.07,182.57 L106.07,181.16 L108.07,179.73 L110.07,178.30 L112.07,176.86 L114.07,175.40 L116.07,173.94 L118.06,172.46 L120.06,170.96 L122.06,169.45 L124.06,167.92 L126.06,166.38 L128.06,164.82 L130.06,163.25 L132.06,161.68 L134.06,160.09 L136.05,158.50 L138.05,156.91 L140.05,155.32 L142.05,153.73 L144.05,152.14 L146.05,150.55 L148.05,148.96 L150.05,147.37 L152.04,145.77 L154.04,144.18 L156.04,142.58 L158.04,140.98 L160.04,139.38 L162.04,137.76 L164.04,136.15 L166.04,134.53 L168.04,132.90 L170.03,131.28 L172.03,129.65 L174.03,128.03 L176.03,126.41 L178.03,124.80 L180.03,123.19 L182.03,121.59 L184.03,120.00 L186.02,118.41 L188.02,116.82 L190.02,115.24 L192.02,113.65 L194.02,112.07 L196.02,110.49 L198.02,108.91 L200.02,107.34 L202.02,105.77 L204.01,104.22 L206.01,102.67 L208.01,101.13 L210.01,99.61 L212.01,98.10 L214.01,96.60 L216.01,95.11 L218.01,93.63 L220.00,92.17 L222.00,90.72 L224.00,89.28 L226.00,87.85 L228.00,86.44 L230.00,85.03 L232.00,83.63 L234.00,82.23 L236.00,80.85 L237.99,79.47 L239.99,78.10 L241.99,76.72 L243.99,75.34 L245.99,73.96 L247.99,72.56 L249.99,71.16 L251.99,69.75 L253.98,68.34 L255.98,66.92 L257.98,65.51 L259.98,64.12 L261.98,62.75 L263.98,61.42 L265.98,60.13 L267.98,58.88 L269.98,57.69 L271.97,56.55 L273.97,55.46 L275.97,54.42 L277.97,53.43 L279.97,52.46 L281.97,51.50 L283.97,50.57 L285.97,49.65 L287.96,48.74 L289.96,47.85 L291.96,46.98 L293.96,46.14 L295.96,45.33 L297.96,44.55 L299.96,43.81 L301.96,43.09 L303.96,42.40 L305.95,41.71 L307.95,41.02 L309.95,40.32 L311.95,39.61 L313.95,38.87 L315.95,38.12 L317.95,37.37 L319.95,36.62 L321.94,35.89 L323.94,35.18 L325.94,34.50 L327.94,33.85 L329.94,33.22 L331.94,32.63 L333.94,32.05 L335.94,31.49 L337.94,30.94 L339.93,30.40 L341.93,29.87 L343.93,29.35 L345.93,28.85 L347.93,28.36 L349.93,27.89 L351.93,27.43 L353.93,26.99 L355.92,26.56 L357.92,26.13 L359.92,25.72 L361.92,25.32 L363.92,24.94 L365.92,24.57 L367.92,24.22 L369.92,23.89 L371.92,23.56 L373.91,23.26 L375.91,22.96 L377.91,22.67 L379.91,22.40 L381.91,22.14 L383.91,21.89 L385.91,21.65 L387.91,21.43 L389.90,21.22 L391.90,21.02 L393.90,20.84 L395.90,20.66 L397.90,20.50" fill="none" stroke="#ff0000" stroke-width="1.0" stroke-dasharray="5 6.4"/>
<path d="M58.10,226.44 L60.10,225.22 L62.10,224.01 L64.10,222.79 L66.10,221.58 L68.09,220.36 L70.09,219.15 L72.09,217.94 L74.09,216.72 L76.09,215.51 L78.09,214.29 L80.09,213.08 L82.09,211.86 L84.08,210.65 L86.08,209.44 L88.08,208.24 L90.08,207.05 L92.08,205.86 L94.08,204.70 L96.08,203.56 L98.08,202.41 L100.08,201.26 L102.07,200.08 L104.07,198.88 L106.07,197.63 L108.07,196.36 L110.07,195.08 L112.07,193.78 L114.07,192.48 L116.07,191.16 L118.06,189.82 L120.06,188.48 L122.06,187.12 L124.06,185.75 L126.06,184.37 L128.06,182.98 L130.06,181.57 L132.06,180.15 L134.06,178.73 L136.05,177.29 L138.05,175.84 L140.05,174.38 L142.05,172.91 L144.05,171.44 L146.05,169.95 L148.05,168.45 L150.05,166.94 L152.04,165.39 L154.04,163.79 L156.04,162.15 L158.04,160.51 L160.04,158.89 L162.04,157.31 L164.04,155.78 L166.04,154.27 L168.04,152.78 L170.03,151.30 L172.03,149.82 L174.03,148.34 L176.03,146.85 L178.03,145.37 L180.03,143.90 L182.03,142.42 L184.03,140.93 L186.02,139.44 L188.02,137.93 L190.02,136.40 L192.02,134.87 L194.02,133.34 L196.02,131.82 L198.02,130.30 L200.02,128.79 L202.02,127.28 L204.01,125.77 L206.01,124.27 L208.01,122.79 L210.01,121.33 L212.01,119.89 L214.01,118.47 L216.01,117.07 L218.01,115.67 L220.00,114.28 L222.00,112.89 L224.00,111.50 L226.00,110.12 L228.00,108.74 L230.00,107.36 L232.00,105.98 L234.00,104.57 L236.00,103.16 L237.99,101.73 L239.99,100.29 L241.99,98.85 L243.99,97.40 L245.99,95.96 L247.99,94.50 L249.99,93.03 L251.99,91.55 L253.98,90.08 L255.98,88.63 L257.98,87.22 L259.98,85.82 L261.98,84.45 L263.98,83.08 L265.98,81.75 L267.98,80.44 L269.98,79.17 L271.97,77.94 L273.97,76.75 L275.97,75.58 L277.97,74.43 L279.97,73.29 L281.97,72.15 L283.97,71.02 L285.97,69.89 L287.96,68.77 L289.96,67.67 L291.96,66.58 L293.96,65.52 L295.96,64.47 L297.96,63.45 L299.96,62.44 L301.96,61.45 L303.96,60.46 L305.95,59.47 L307.95,58.48 L309.95,57.50 L311.95,56.52 L313.95,55.55 L315.95,54.59 L317.95,53.63 L319.95,52.67 L321.94,51.70 L323.94,50.73 L325.94,49.79 L327.94,48.87 L329.94,48.00 L331.94,47.17 L333.94,46.38 L335.94,45.61 L337.94,44.85 L339.93,44.11 L341.93,43.37 L343.93,42.63 L345.93,41.90 L347.93,41.18 L349.93,40.47 L351.93,39.76 L353.93,39.07 L355.92,38.39 L357.92,37.71 L359.92,37.04 L361.92,36.39 L363.92,35.74 L365.92,35.10 L367.92,34.47 L369.92,33.86 L371.92,33.25 L373.91,32.65 L375.91,32.06 L377.91,31.48 L379.91,30.92 L381.91,30.36 L383.91,29.81 L385.91,29.28 L387.91,28.75 L389.90,28.23 L391.90,27.72 L393.90,27.22 L395.90,26.73 L397.90,26.25" fill="none" stroke="#ff0000" stroke-width="1.0" stroke-dasharray="5 6.4"/>
<path d="M58.10,217.86 L60.10,216.75 L62.10,215.61 L64.10,214.45 L66.10,213.26 L68.09,212.06 L70.09,210.85 L72.09,209.62 L74.09,208.40 L76.09,207.16 L78.09,205.91 L80.09,204.64 L82.09,203.37 L84.08,202.09 L86.08,200.79 L88.08,199.49 L90.08,198.17 L92.08,196.85 L94.08,195.51 L96.08,194.16 L98.08,192.80 L100.08,191.43 L102.07,190.05 L104.07,188.66 L106.07,187.25 L108.07,185.83 L110.07,184.40 L112.07,182.95 L114.07,181.50 L116.07,180.03 L118.06,178.55 L120.06,177.05 L122.06,175.55 L124.06,174.04 L126.06,172.52 L128.06,171.00 L130.06,169.47 L132.06,167.95 L134.06,166.43 L136.05,164.90 L138.05,163.36 L140.05,161.82 L142.05,160.27 L144.05,158.71 L146.05,157.15 L148.05,155.59 L150.05,154.03 L152.04,152.47 L154.04,150.92 L156.04,149.37 L158.04,147.82 L160.04,146.28 L162.04,144.74 L164.04,143.20 L166.04,141.67 L168.04,140.15 L170.03,138.63 L172.03,137.11 L174.03,135.61 L176.03,134.11 L178.03,132.62 L180.03,131.14 L182.03,129.66 L184.03,128.18 L186.02,126.70 L188.02,125.23 L190.02,123.75 L192.02,122.27 L194.02,120.79 L196.02,119.30 L198.02,117.81 L200.02,116.31 L202.02,114.80 L204.01,113.28 L206.01,111.78 L208.01,110.29 L210.01,108.83 L212.01,107.40 L214.01,105.99 L216.01,104.59 L218.01,103.21 L220.00,101.82 L222.00,100.44 L224.00,99.05 L226.00,97.67 L228.00,96.29 L230.00,94.92 L232.00,93.54 L234.00,92.17 L236.00,90.79 L237.99,89.41 L239.99,88.02 L241.99,86.63 L243.99,85.25 L245.99,83.86 L247.99,82.48 L249.99,81.11 L251.99,79.74 L253.98,78.39 L255.98,77.05 L257.98,75.73 L259.98,74.43 L261.98,73.17 L263.98,71.93 L265.98,70.73 L267.98,69.56 L269.98,68.42 L271.97,67.31 L273.97,66.22 L275.97,65.16 L277.97,64.12 L279.97,63.09 L281.97,62.09 L283.97,61.09 L285.97,60.12 L287.96,59.16 L289.96,58.22 L291.96,57.31 L293.96,56.42 L295.96,55.56 L297.96,54.73 L299.96,53.93 L301.96,53.15 L303.96,52.40 L305.95,51.66 L307.95,50.92 L309.95,50.17 L311.95,49.40 L313.95,48.61 L315.95,47.80 L317.95,46.98 L319.95,46.15 L321.94,45.34 L323.94,44.54 L325.94,43.77 L327.94,43.02 L329.94,42.29 L331.94,41.59 L333.94,40.90 L335.94,40.23 L337.94,39.57 L339.93,38.92 L341.93,38.27 L343.93,37.64 L345.93,37.01 L347.93,36.38 L349.93,35.77 L351.93,35.16 L353.93,34.57 L355.92,33.98 L357.92,33.41 L359.92,32.84 L361.92,32.29 L363.92,31.75 L365.92,31.22 L367.92,30.71 L369.92,30.20 L371.92,29.71 L373.91,29.23 L375.91,28.76 L377.91,28.30 L379.91,27.86 L381.91,27.42 L383.91,26.99 L385.91,26.58 L387.91,26.18 L389.90,25.79 L391.90,25.41 L393.90,25.04 L395.90,24.68 L397.90,24.33" fill="none" stroke="#ff0000" stroke-width="2.0" stroke-dasharray="4.4 7.0" stroke-dashoffset="-1"/>
</g>
<g clip-path="url(#cl)">
<path d="M58.10,214.04 L60.10,214.78 L62.10,215.53 L64.10,216.28 L66.10,217.03 L68.09,217.78 L70.09,218.53 L72.09,219.28 L74.09,220.03 L76.09,220.78 L78.09,221.53 L80.09,222.28 L82.09,223.03 L84.08,223.78 L86.08,224.53 L88.08,225.28 L90.08,226.03 L92.08,226.79 L94.08,227.57 L96.08,228.35 L98.08,229.14 L100.08,229.93 L102.07,230.72 L104.07,231.50 L106.07,232.27 L108.07,233.03 L110.07,233.77 L112.07,234.48 L114.07,235.17 L116.07,235.82 L118.06,236.45 L120.06,237.08 L122.06,237.69 L124.06,238.30 L126.06,238.89 L128.06,239.47 L130.06,240.03 L132.06,240.59 L134.06,241.13 L136.05,241.65 L138.05,242.16 L140.05,242.65 L142.05,243.13 L144.05,243.59 L146.05,244.03 L148.05,244.46 L150.05,244.87 L152.04,245.27 L154.04,245.66 L156.04,246.03 L158.04,246.40 L160.04,246.76 L162.04,247.12 L164.04,247.46 L166.04,247.81 L168.04,248.15 L170.03,248.48 L172.03,248.82 L174.03,249.16 L176.03,249.49 L178.03,249.83 L180.03,250.18 L182.03,250.51 L184.03,250.85 L186.02,251.18 L188.02,251.51 L190.02,251.84 L192.02,252.16 L194.02,252.49 L196.02,252.81 L198.02,253.13 L200.02,253.44 L202.02,253.76 L204.01,254.08 L206.01,254.39 L208.01,254.71 L210.01,255.02 L212.01,255.33 L214.01,255.64 L216.01,255.95 L218.01,256.25 L220.00,256.55 L222.00,256.86 L224.00,257.16 L226.00,257.46 L228.00,257.76 L230.00,258.06 L232.00,258.37 L234.00,258.67 L236.00,258.98 L237.99,259.29 L239.99,259.60 L241.99,259.92 L243.99,260.25 L245.99,260.58 L247.99,260.90 L249.99,261.20 L251.99,261.48 L253.98,261.75 L255.98,262.01 L257.98,262.26 L259.98,262.51 L261.98,262.75 L263.98,262.99 L265.98,263.23 L267.98,263.46 L269.98,263.69 L271.97,263.92 L273.97,264.15 L275.97,264.38 L277.97,264.61 L279.97,264.84 L281.97,265.08 L283.97,265.32 L285.97,265.57 L287.96,265.82 L289.96,266.08 L291.96,266.34 L293.96,266.61 L295.96,266.89 L297.96,267.16 L299.96,267.44 L301.96,267.71 L303.96,267.99 L305.95,268.27 L307.95,268.54 L309.95,268.82 L311.95,269.09 L313.95,269.35 L315.95,269.61 L317.95,269.87 L319.95,270.12 L321.94,270.36 L323.94,270.59 L325.94,270.83 L327.94,271.06 L329.94,271.29 L331.94,271.53 L333.94,271.77 L335.94,272.00 L337.94,272.24 L339.93,272.48 L341.93,272.72 L343.93,272.95 L345.93,273.19 L347.93,273.43 L349.93,273.66 L351.93,273.89 L353.93,274.12 L355.92,274.35 L357.92,274.57 L359.92,274.79 L361.92,275.01 L363.92,275.23 L365.92,275.44 L367.92,275.66 L369.92,275.87 L371.92,276.08 L373.91,276.29 L375.91,276.50 L377.91,276.71 L379.91,276.91 L381.91,277.12 L383.91,277.32 L385.91,277.52 L387.91,277.72 L389.90,277.92 L391.90,278.11 L393.90,278.31 L395.90,278.50 L397.90,278.69 L397.90,289.21 L395.90,289.31 L393.90,289.42 L391.90,289.52 L389.90,289.63 L387.91,289.73 L385.91,289.84 L383.91,289.94 L381.91,290.05 L379.91,290.15 L377.91,290.25 L375.91,290.35 L373.91,290.46 L371.92,290.57 L369.92,290.68 L367.92,290.80 L365.92,290.91 L363.92,291.03 L361.92,291.13 L359.92,291.23 L357.92,291.31 L355.92,291.38 L353.93,291.43 L351.93,291.47 L349.93,291.50 L347.93,291.53 L345.93,291.56 L343.93,291.59 L341.93,291.61 L339.93,291.64 L337.94,291.66 L335.94,291.69 L333.94,291.72 L331.94,291.76 L329.94,291.80 L327.94,291.85 L325.94,291.91 L323.94,291.97 L321.94,292.04 L319.95,292.12 L317.95,292.20 L315.95,292.30 L313.95,292.40 L311.95,292.50 L309.95,292.63 L307.95,292.78 L305.95,292.96 L303.96,293.15 L301.96,293.37 L299.96,293.59 L297.96,293.82 L295.96,294.06 L293.96,294.30 L291.96,294.54 L289.96,294.78 L287.96,295.00 L285.97,295.23 L283.97,295.45 L281.97,295.68 L279.97,295.92 L277.97,296.15 L275.97,296.39 L273.97,296.63 L271.97,296.87 L269.98,297.10 L267.98,297.34 L265.98,297.57 L263.98,297.80 L261.98,298.03 L259.98,298.26 L257.98,298.49 L255.98,298.73 L253.98,298.96 L251.99,299.19 L249.99,299.41 L247.99,299.64 L245.99,299.86 L243.99,300.08 L241.99,300.29 L239.99,300.50 L237.99,300.71 L236.00,300.91 L234.00,301.12 L232.00,301.32 L230.00,301.52 L228.00,301.72 L226.00,301.92 L224.00,302.11 L222.00,302.30 L220.00,302.49 L218.01,302.67 L216.01,302.85 L214.01,303.02 L212.01,303.19 L210.01,303.35 L208.01,303.50 L206.01,303.65 L204.01,303.79 L202.02,303.93 L200.02,304.06 L198.02,304.19 L196.02,304.32 L194.02,304.44 L192.02,304.56 L190.02,304.68 L188.02,304.79 L186.02,304.90 L184.03,305.00 L182.03,305.10 L180.03,305.19 L178.03,305.27 L176.03,305.36 L174.03,305.43 L172.03,305.51 L170.03,305.59 L168.04,305.67 L166.04,305.75 L164.04,305.83 L162.04,305.91 L160.04,306.00 L158.04,306.09 L156.04,306.19 L154.04,306.29 L152.04,306.39 L150.05,306.50 L148.05,306.60 L146.05,306.71 L144.05,306.82 L142.05,306.92 L140.05,307.03 L138.05,307.13 L136.05,307.23 L134.06,307.32 L132.06,307.41 L130.06,307.50 L128.06,307.58 L126.06,307.66 L124.06,307.75 L122.06,307.83 L120.06,307.92 L118.06,308.00 L116.07,308.08 L114.07,308.16 L112.07,308.24 L110.07,308.31 L108.07,308.38 L106.07,308.45 L104.07,308.51 L102.07,308.56 L100.08,308.61 L98.08,308.65 L96.08,308.68 L94.08,308.71 L92.08,308.74 L90.08,308.76 L88.08,308.79 L86.08,308.81 L84.08,308.83 L82.09,308.86 L80.09,308.88 L78.09,308.90 L76.09,308.91 L74.09,308.93 L72.09,308.95 L70.09,308.96 L68.09,308.97 L66.10,308.98 L64.10,308.99 L62.10,309.00 L60.10,309.00 L58.10,309.00Z" fill="#00ff00" fill-opacity="0.5" stroke="none"/>
<path d="M58.10,214.04 L60.10,214.78 L62.10,215.53 L64.10,216.28 L66.10,217.03 L68.09,217.78 L70.09,218.53 L72.09,219.28 L74.09,220.03 L76.09,220.78 L78.09,221.53 L80.09,222.28 L82.09,223.03 L84.08,223.78 L86.08,224.53 L88.08,225.28 L90.08,226.03 L92.08,226.79 L94.08,227.57 L96.08,228.35 L98.08,229.14 L100.08,229.93 L102.07,230.72 L104.07,231.50 L106.07,232.27 L108.07,233.03 L110.07,233.77 L112.07,234.48 L114.07,235.17 L116.07,235.82 L118.06,236.45 L120.06,237.08 L122.06,237.69 L124.06,238.30 L126.06,238.89 L128.06,239.47 L130.06,240.03 L132.06,240.59 L134.06,241.13 L136.05,241.65 L138.05,242.16 L140.05,242.65 L142.05,243.13 L144.05,243.59 L146.05,244.03 L148.05,244.46 L150.05,244.87 L152.04,245.27 L154.04,245.66 L156.04,246.03 L158.04,246.40 L160.04,246.76 L162.04,247.12 L164.04,247.46 L166.04,247.81 L168.04,248.15 L170.03,248.48 L172.03,248.82 L174.03,249.16 L176.03,249.49 L178.03,249.83 L180.03,250.18 L182.03,250.51 L184.03,250.85 L186.02,251.18 L188.02,251.51 L190.02,251.84 L192.02,252.16 L194.02,252.49 L196.02,252.81 L198.02,253.13 L200.02,253.44 L202.02,253.76 L204.01,254.08 L206.01,254.39 L208.01,254.71 L210.01,255.02 L212.01,255.33 L214.01,255.64 L216.01,255.95 L218.01,256.25 L220.00,256.55 L222.00,256.86 L224.00,257.16 L226.00,257.46 L228.00,257.76 L230.00,258.06 L232.00,258.37 L234.00,258.67 L236.00,258.98 L237.99,259.29 L239.99,259.60 L241.99,259.92 L243.99,260.25 L245.99,260.58 L247.99,260.90 L249.99,261.20 L251.99,261.48 L253.98,261.75 L255.98,262.01 L257.98,262.26 L259.98,262.51 L261.98,262.75 L263.98,262.99 L265.98,263.23 L267.98,263.46 L269.98,263.69 L271.97,263.92 L273.97,264.15 L275.97,264.38 L277.97,264.61 L279.97,264.84 L281.97,265.08 L283.97,265.32 L285.97,265.57 L287.96,265.82 L289.96,266.08 L291.96,266.34 L293.96,266.61 L295.96,266.89 L297.96,267.16 L299.96,267.44 L301.96,267.71 L303.96,267.99 L305.95,268.27 L307.95,268.54 L309.95,268.82 L311.95,269.09 L313.95,269.35 L315.95,269.61 L317.95,269.87 L319.95,270.12 L321.94,270.36 L323.94,270.59 L325.94,270.83 L327.94,271.06 L329.94,271.29 L331.94,271.53 L333.94,271.77 L335.94,272.00 L337.94,272.24 L339.93,272.48 L341.93,272.72 L343.93,272.95 L345.93,273.19 L347.93,273.43 L349.93,273.66 L351.93,273.89 L353.93,274.12 L355.92,274.35 L357.92,274.57 L359.92,274.79 L361.92,275.01 L363.92,275.23 L365.92,275.44 L367.92,275.66 L369.92,275.87 L371.92,276.08 L373.91,276.29 L375.91,276.50 L377.91,276.71 L379.91,276.91 L381.91,277.12 L383.91,277.32 L385.91,277.52 L387.91,277.72 L389.90,277.92 L391.90,278.11 L393.90,278.31 L395.90,278.50 L397.90,278.69" fill="none" stroke="#00a800" stroke-width="1.05"/>
<path d="M58.10,309.00 L60.10,309.00 L62.10,309.00 L64.10,308.99 L66.10,308.98 L68.09,308.97 L70.09,308.96 L72.09,308.95 L74.09,308.93 L76.09,308.91 L78.09,308.90 L80.09,308.88 L82.09,308.86 L84.08,308.83 L86.08,308.81 L88.08,308.79 L90.08,308.76 L92.08,308.74 L94.08,308.71 L96.08,308.68 L98.08,308.65 L100.08,308.61 L102.07,308.56 L104.07,308.51 L106.07,308.45 L108.07,308.38 L110.07,308.31 L112.07,308.24 L114.07,308.16 L116.07,308.08 L118.06,308.00 L120.06,307.92 L122.06,307.83 L124.06,307.75 L126.06,307.66 L128.06,307.58 L130.06,307.50 L132.06,307.41 L134.06,307.32 L136.05,307.23 L138.05,307.13 L140.05,307.03 L142.05,306.92 L144.05,306.82 L146.05,306.71 L148.05,306.60 L150.05,306.50 L152.04,306.39 L154.04,306.29 L156.04,306.19 L158.04,306.09 L160.04,306.00 L162.04,305.91 L164.04,305.83 L166.04,305.75 L168.04,305.67 L170.03,305.59 L172.03,305.51 L174.03,305.43 L176.03,305.36 L178.03,305.27 L180.03,305.19 L182.03,305.10 L184.03,305.00 L186.02,304.90 L188.02,304.79 L190.02,304.68 L192.02,304.56 L194.02,304.44 L196.02,304.32 L198.02,304.19 L200.02,304.06 L202.02,303.93 L204.01,303.79 L206.01,303.65 L208.01,303.50 L210.01,303.35 L212.01,303.19 L214.01,303.02 L216.01,302.85 L218.01,302.67 L220.00,302.49 L222.00,302.30 L224.00,302.11 L226.00,301.92 L228.00,301.72 L230.00,301.52 L232.00,301.32 L234.00,301.12 L236.00,300.91 L237.99,300.71 L239.99,300.50 L241.99,300.29 L243.99,300.08 L245.99,299.86 L247.99,299.64 L249.99,299.41 L251.99,299.19 L253.98,298.96 L255.98,298.73 L257.98,298.49 L259.98,298.26 L261.98,298.03 L263.98,297.80 L265.98,297.57 L267.98,297.34 L269.98,297.10 L271.97,296.87 L273.97,296.63 L275.97,296.39 L277.97,296.15 L279.97,295.92 L281.97,295.68 L283.97,295.45 L285.97,295.23 L287.96,295.00 L289.96,294.78 L291.96,294.54 L293.96,294.30 L295.96,294.06 L297.96,293.82 L299.96,293.59 L301.96,293.37 L303.96,293.15 L305.95,292.96 L307.95,292.78 L309.95,292.63 L311.95,292.50 L313.95,292.40 L315.95,292.30 L317.95,292.20 L319.95,292.12 L321.94,292.04 L323.94,291.97 L325.94,291.91 L327.94,291.85 L329.94,291.80 L331.94,291.76 L333.94,291.72 L335.94,291.69 L337.94,291.66 L339.93,291.64 L341.93,291.61 L343.93,291.59 L345.93,291.56 L347.93,291.53 L349.93,291.50 L351.93,291.47 L353.93,291.43 L355.92,291.38 L357.92,291.31 L359.92,291.23 L361.92,291.13 L363.92,291.03 L365.92,290.91 L367.92,290.80 L369.92,290.68 L371.92,290.57 L373.91,290.46 L375.91,290.35 L377.91,290.25 L379.91,290.15 L381.91,290.05 L383.91,289.94 L385.91,289.84 L387.91,289.73 L389.90,289.63 L391.90,289.52 L393.90,289.42 L395.90,289.31 L397.90,289.21" fill="none" stroke="#00a800" stroke-width="1.05"/>
<path d="M58.10,275.00 L60.10,275.10 L62.10,275.19 L64.10,275.29 L66.10,275.39 L68.09,275.48 L70.09,275.58 L72.09,275.68 L74.09,275.78 L76.09,275.88 L78.09,275.98 L80.09,276.08 L82.09,276.18 L84.08,276.29 L86.08,276.39 L88.08,276.50 L90.08,276.60 L92.08,276.71 L94.08,276.82 L96.08,276.93 L98.08,277.05 L100.08,277.16 L102.07,277.28 L104.07,277.40 L106.07,277.52 L108.07,277.64 L110.07,277.76 L112.07,277.88 L114.07,278.00 L116.07,278.12 L118.06,278.24 L120.06,278.37 L122.06,278.49 L124.06,278.61 L126.06,278.73 L128.06,278.85 L130.06,278.97 L132.06,279.08 L134.06,279.20 L136.05,279.31 L138.05,279.43 L140.05,279.54 L142.05,279.64 L144.05,279.75 L146.05,279.85 L148.05,279.95 L150.05,280.05 L152.04,280.14 L154.04,280.23 L156.04,280.32 L158.04,280.41 L160.04,280.50 L162.04,280.60 L164.04,280.69 L166.04,280.79 L168.04,280.89 L170.03,281.00 L172.03,281.12 L174.03,281.24 L176.03,281.37 L178.03,281.50 L180.03,281.64 L182.03,281.78 L184.03,281.92 L186.02,282.07 L188.02,282.22 L190.02,282.37 L192.02,282.51 L194.02,282.66 L196.02,282.80 L198.02,282.94 L200.02,283.08 L202.02,283.21 L204.01,283.34 L206.01,283.46 L208.01,283.57 L210.01,283.67 L212.01,283.78 L214.01,283.89 L216.01,283.99 L218.01,284.09 L220.00,284.20 L222.00,284.30 L224.00,284.39 L226.00,284.49 L228.00,284.59 L230.00,284.68 L232.00,284.77 L234.00,284.85 L236.00,284.93 L237.99,285.01 L239.99,285.09 L241.99,285.16 L243.99,285.23 L245.99,285.29 L247.99,285.35 L249.99,285.40 L251.99,285.45 L253.98,285.50 L255.98,285.54 L257.98,285.58 L259.98,285.63 L261.98,285.67 L263.98,285.70 L265.98,285.74 L267.98,285.78 L269.98,285.81 L271.97,285.84 L273.97,285.88 L275.97,285.91 L277.97,285.94 L279.97,285.97 L281.97,285.99 L283.97,286.02 L285.97,286.05 L287.96,286.07 L289.96,286.10 L291.96,286.12 L293.96,286.15 L295.96,286.17 L297.96,286.20 L299.96,286.22 L301.96,286.24 L303.96,286.27 L305.95,286.29 L307.95,286.31 L309.95,286.33 L311.95,286.35 L313.95,286.37 L315.95,286.39 L317.95,286.41 L319.95,286.43 L321.94,286.44 L323.94,286.46 L325.94,286.47 L327.94,286.49 L329.94,286.50 L331.94,286.51 L333.94,286.52 L335.94,286.54 L337.94,286.55 L339.93,286.56 L341.93,286.57 L343.93,286.59 L345.93,286.60 L347.93,286.61 L349.93,286.62 L351.93,286.63 L353.93,286.64 L355.92,286.65 L357.92,286.67 L359.92,286.68 L361.92,286.69 L363.92,286.70 L365.92,286.71 L367.92,286.71 L369.92,286.72 L371.92,286.73 L373.91,286.74 L375.91,286.75 L377.91,286.75 L379.91,286.76 L381.91,286.77 L383.91,286.77 L385.91,286.78 L387.91,286.78 L389.90,286.79 L391.90,286.79 L393.90,286.80 L395.90,286.80 L397.90,286.80" fill="none" stroke="#007400" stroke-width="2.0"/>
<path d="M58.10,287.20 L60.10,287.20 L62.10,287.20 L64.10,287.20 L66.10,287.20 L68.09,287.20 L70.09,287.20 L72.09,287.20 L74.09,287.20 L76.09,287.20 L78.09,287.20 L80.09,287.20 L82.09,287.20 L84.08,287.20 L86.08,287.20 L88.08,287.20 L90.08,287.20 L92.08,287.20 L94.08,287.20 L96.08,287.20 L98.08,287.20 L100.08,287.20 L102.07,287.20 L104.07,287.20 L106.07,287.20 L108.07,287.20 L110.07,287.20 L112.07,287.20 L114.07,287.20 L116.07,287.20 L118.06,287.20 L120.06,287.20 L122.06,287.20 L124.06,287.20 L126.06,287.20 L128.06,287.20 L130.06,287.20 L132.06,287.20 L134.06,287.20 L136.05,287.20 L138.05,287.20 L140.05,287.20 L142.05,287.20 L144.05,287.20 L146.05,287.20 L148.05,287.20 L150.05,287.20 L152.04,287.20 L154.04,287.20 L156.04,287.20 L158.04,287.20 L160.04,287.20 L162.04,287.20 L164.04,287.20 L166.04,287.20 L168.04,287.20 L170.03,287.20 L172.03,287.20 L174.03,287.20 L176.03,287.20 L178.03,287.20 L180.03,287.20 L182.03,287.20 L184.03,287.20 L186.02,287.20 L188.02,287.20 L190.02,287.20 L192.02,287.20 L194.02,287.20 L196.02,287.20 L198.02,287.20 L200.02,287.20 L202.02,287.20 L204.01,287.20 L206.01,287.20 L208.01,287.20 L210.01,287.20 L212.01,287.20 L214.01,287.20 L216.01,287.20 L218.01,287.20 L220.00,287.20 L222.00,287.20 L224.00,287.20 L226.00,287.20 L228.00,287.20 L230.00,287.20 L232.00,287.20 L234.00,287.20 L236.00,287.20 L237.99,287.20 L239.99,287.20 L241.99,287.20 L243.99,287.20 L245.99,287.20 L247.99,287.20 L249.99,287.20 L251.99,287.20 L253.98,287.20 L255.98,287.20 L257.98,287.20 L259.98,287.20 L261.98,287.20 L263.98,287.20 L265.98,287.20 L267.98,287.20 L269.98,287.20 L271.97,287.20 L273.97,287.20 L275.97,287.20 L277.97,287.20 L279.97,287.20 L281.97,287.20 L283.97,287.20 L285.97,287.20 L287.96,287.20 L289.96,287.20 L291.96,287.20 L293.96,287.20 L295.96,287.20 L297.96,287.20 L299.96,287.20 L301.96,287.20 L303.96,287.20 L305.95,287.20 L307.95,287.20 L309.95,287.20 L311.95,287.20 L313.95,287.20 L315.95,287.20 L317.95,287.20 L319.95,287.20 L321.94,287.20 L323.94,287.20 L325.94,287.20 L327.94,287.20 L329.94,287.20 L331.94,287.20 L333.94,287.20 L335.94,287.20 L337.94,287.20 L339.93,287.20 L341.93,287.20 L343.93,287.20 L345.93,287.20 L347.93,287.20 L349.93,287.20 L351.93,287.20 L353.93,287.20 L355.92,287.20 L357.92,287.20 L359.92,287.20 L361.92,287.20 L363.92,287.20 L365.92,287.20 L367.92,287.20 L369.92,287.20 L371.92,287.20 L373.91,287.20 L375.91,287.20 L377.91,287.20 L379.91,287.20 L381.91,287.20 L383.91,287.20 L385.91,287.20 L387.91,287.20 L389.90,287.20 L391.90,287.20 L393.90,287.20 L395.90,287.20 L397.90,287.20" fill="none" stroke="#00008b" stroke-width="2.0" stroke-dasharray="9 5" stroke-dashoffset="-1.0"/>
<path d="M58.10,315.59 L60.10,315.35 L62.10,315.09 L64.10,314.82 L66.10,314.53 L68.09,314.23 L70.09,313.91 L72.09,313.57 L74.09,313.21 L76.09,312.80 L78.09,312.36 L80.09,311.89 L82.09,311.41 L84.08,310.92 L86.08,310.43 L88.08,309.95 L90.08,309.49 L92.08,309.06 L94.08,308.66 L96.08,308.32 L98.08,308.00 L100.08,307.70 L102.07,307.42 L104.07,307.16 L106.07,306.90 L108.07,306.65 L110.07,306.39 L112.07,306.14 L114.07,305.87 L116.07,305.60 L118.06,305.30 L120.06,304.99 L122.06,304.65 L124.06,304.30 L126.06,303.93 L128.06,303.54 L130.06,303.15 L132.06,302.75 L134.06,302.35 L136.05,301.95 L138.05,301.55 L140.05,301.17 L142.05,300.79 L144.05,300.43 L146.05,300.07 L148.05,299.72 L150.05,299.37 L152.04,299.03 L154.04,298.68 L156.04,298.32 L158.04,297.96 L160.04,297.59 L162.04,297.21 L164.04,296.81 L166.04,296.41 L168.04,296.00 L170.03,295.58 L172.03,295.16 L174.03,294.74 L176.03,294.33 L178.03,293.93 L180.03,293.54 L182.03,293.16 L184.03,292.80 L186.02,292.44 L188.02,292.10 L190.02,291.75 L192.02,291.42 L194.02,291.09 L196.02,290.76 L198.02,290.44 L200.02,290.14 L202.02,289.84 L204.01,289.55 L206.01,289.27 L208.01,289.00 L210.01,288.74 L212.01,288.49 L214.01,288.24 L216.01,288.01 L218.01,287.78 L220.00,287.55 L222.00,287.33 L224.00,287.12 L226.00,286.91 L228.00,286.70 L230.00,286.50 L232.00,286.30 L234.00,286.11 L236.00,285.93 L237.99,285.76 L239.99,285.59 L241.99,285.43 L243.99,285.26 L245.99,285.08 L247.99,284.90 L249.99,284.70 L251.99,284.48 L253.98,284.24 L255.98,283.98 L257.98,283.71 L259.98,283.43 L261.98,283.14 L263.98,282.86 L265.98,282.58 L267.98,282.32 L269.98,282.08 L271.97,281.86 L273.97,281.66 L275.97,281.50 L277.97,281.36 L279.97,281.23 L281.97,281.11 L283.97,280.99 L285.97,280.88 L287.96,280.77 L289.96,280.68 L291.96,280.59 L293.96,280.50 L295.96,280.43 L297.96,280.36 L299.96,280.30 L301.96,280.24 L303.96,280.19 L305.95,280.13 L307.95,280.08 L309.95,280.03 L311.95,279.99 L313.95,279.95 L315.95,279.92 L317.95,279.91 L319.95,279.90 L321.94,279.90 L323.94,279.92 L325.94,279.94 L327.94,279.96 L329.94,279.99 L331.94,280.03 L333.94,280.07 L335.94,280.11 L337.94,280.15 L339.93,280.20 L341.93,280.25 L343.93,280.31 L345.93,280.37 L347.93,280.45 L349.93,280.53 L351.93,280.62 L353.93,280.71 L355.92,280.80 L357.92,280.90 L359.92,281.00 L361.92,281.10 L363.92,281.20 L365.92,281.31 L367.92,281.43 L369.92,281.55 L371.92,281.68 L373.91,281.80 L375.91,281.93 L377.91,282.06 L379.91,282.19 L381.91,282.33 L383.91,282.46 L385.91,282.60 L387.91,282.74 L389.90,282.89 L391.90,283.04 L393.90,283.19 L395.90,283.34 L397.90,283.49 L397.90,289.51 L395.90,289.70 L393.90,289.88 L391.90,290.07 L389.90,290.26 L387.91,290.45 L385.91,290.64 L383.91,290.83 L381.91,291.03 L379.91,291.22 L377.91,291.42 L375.91,291.61 L373.91,291.81 L371.92,292.01 L369.92,292.21 L367.92,292.41 L365.92,292.61 L363.92,292.81 L361.92,293.01 L359.92,293.22 L357.92,293.42 L355.92,293.63 L353.93,293.83 L351.93,294.04 L349.93,294.25 L347.93,294.47 L345.93,294.68 L343.93,294.90 L341.93,295.12 L339.93,295.33 L337.94,295.55 L335.94,295.77 L333.94,296.00 L331.94,296.25 L329.94,296.51 L327.94,296.79 L325.94,297.08 L323.94,297.40 L321.94,297.72 L319.95,298.06 L317.95,298.41 L315.95,298.77 L313.95,299.14 L311.95,299.51 L309.95,299.89 L307.95,300.29 L305.95,300.71 L303.96,301.13 L301.96,301.57 L299.96,302.02 L297.96,302.46 L295.96,302.92 L293.96,303.37 L291.96,303.82 L289.96,304.27 L287.96,304.71 L285.97,305.14 L283.97,305.58 L281.97,306.02 L279.97,306.45 L277.97,306.89 L275.97,307.33 L273.97,307.77 L271.97,308.21 L269.98,308.65 L267.98,309.10 L265.98,309.55 L263.98,310.00 L261.98,310.47 L259.98,310.94 L257.98,311.41 L255.98,311.89 L253.98,312.37 L251.99,312.84 L249.99,313.30 L247.99,313.76 L245.99,314.22 L243.99,314.68 L241.99,315.13 L239.99,315.58 L237.99,316.03 L236.00,316.46 L234.00,316.89 L232.00,317.30 L230.00,317.70 L228.00,318.08 L226.00,318.45 L224.00,318.81 L222.00,319.16 L220.00,319.51 L218.01,319.86 L216.01,320.22 L214.01,320.59 L212.01,320.97 L210.01,321.38 L208.01,321.80 L206.01,322.24 L204.01,322.71 L202.02,323.20 L200.02,323.71 L198.02,324.22 L196.02,324.75 L194.02,325.29 L192.02,325.83 L190.02,326.38 L188.02,326.92 L186.02,327.46 L184.03,327.99 L182.03,328.51 L180.03,329.02 L178.03,329.52 L176.03,330.02 L174.03,330.52 L172.03,331.03 L170.03,331.55 L168.04,332.08 L166.04,332.64 L164.04,333.22 L162.04,333.84 L160.04,334.49 L158.04,335.26 L156.04,336.17 L154.04,337.11 L152.04,337.95 L150.05,338.59 L148.05,339.06 L146.05,339.50 L144.05,339.92 L142.05,340.31 L140.05,340.68 L138.05,341.03 L136.05,341.36 L134.06,341.67 L132.06,341.97 L130.06,342.25 L128.06,342.52 L126.06,342.78 L124.06,343.03 L122.06,343.27 L120.06,343.51 L118.06,343.74 L116.07,343.97 L114.07,344.21 L112.07,344.44 L110.07,344.68 L108.07,344.92 L106.07,345.18 L104.07,345.44 L102.07,345.71 L100.08,345.99 L98.08,346.28 L96.08,346.57 L94.08,346.86 L92.08,347.15 L90.08,347.44 L88.08,347.72 L86.08,348.01 L84.08,348.30 L82.09,348.58 L80.09,348.87 L78.09,349.16 L76.09,349.44 L74.09,349.73 L72.09,350.01 L70.09,350.29 L68.09,350.58 L66.10,350.86 L64.10,351.14 L62.10,351.42 L60.10,351.70 L58.10,351.99Z" fill="url(#hxL)" stroke="none"/>
<path d="M58.10,315.59 L60.10,315.35 L62.10,315.09 L64.10,314.82 L66.10,314.53 L68.09,314.23 L70.09,313.91 L72.09,313.57 L74.09,313.21 L76.09,312.80 L78.09,312.36 L80.09,311.89 L82.09,311.41 L84.08,310.92 L86.08,310.43 L88.08,309.95 L90.08,309.49 L92.08,309.06 L94.08,308.66 L96.08,308.32 L98.08,308.00 L100.08,307.70 L102.07,307.42 L104.07,307.16 L106.07,306.90 L108.07,306.65 L110.07,306.39 L112.07,306.14 L114.07,305.87 L116.07,305.60 L118.06,305.30 L120.06,304.99 L122.06,304.65 L124.06,304.30 L126.06,303.93 L128.06,303.54 L130.06,303.15 L132.06,302.75 L134.06,302.35 L136.05,301.95 L138.05,301.55 L140.05,301.17 L142.05,300.79 L144.05,300.43 L146.05,300.07 L148.05,299.72 L150.05,299.37 L152.04,299.03 L154.04,298.68 L156.04,298.32 L158.04,297.96 L160.04,297.59 L162.04,297.21 L164.04,296.81 L166.04,296.41 L168.04,296.00 L170.03,295.58 L172.03,295.16 L174.03,294.74 L176.03,294.33 L178.03,293.93 L180.03,293.54 L182.03,293.16 L184.03,292.80 L186.02,292.44 L188.02,292.10 L190.02,291.75 L192.02,291.42 L194.02,291.09 L196.02,290.76 L198.02,290.44 L200.02,290.14 L202.02,289.84 L204.01,289.55 L206.01,289.27 L208.01,289.00 L210.01,288.74 L212.01,288.49 L214.01,288.24 L216.01,288.01 L218.01,287.78 L220.00,287.55 L222.00,287.33 L224.00,287.12 L226.00,286.91 L228.00,286.70 L230.00,286.50 L232.00,286.30 L234.00,286.11 L236.00,285.93 L237.99,285.76 L239.99,285.59 L241.99,285.43 L243.99,285.26 L245.99,285.08 L247.99,284.90 L249.99,284.70 L251.99,284.48 L253.98,284.24 L255.98,283.98 L257.98,283.71 L259.98,283.43 L261.98,283.14 L263.98,282.86 L265.98,282.58 L267.98,282.32 L269.98,282.08 L271.97,281.86 L273.97,281.66 L275.97,281.50 L277.97,281.36 L279.97,281.23 L281.97,281.11 L283.97,280.99 L285.97,280.88 L287.96,280.77 L289.96,280.68 L291.96,280.59 L293.96,280.50 L295.96,280.43 L297.96,280.36 L299.96,280.30 L301.96,280.24 L303.96,280.19 L305.95,280.13 L307.95,280.08 L309.95,280.03 L311.95,279.99 L313.95,279.95 L315.95,279.92 L317.95,279.91 L319.95,279.90 L321.94,279.90 L323.94,279.92 L325.94,279.94 L327.94,279.96 L329.94,279.99 L331.94,280.03 L333.94,280.07 L335.94,280.11 L337.94,280.15 L339.93,280.20 L341.93,280.25 L343.93,280.31 L345.93,280.37 L347.93,280.45 L349.93,280.53 L351.93,280.62 L353.93,280.71 L355.92,280.80 L357.92,280.90 L359.92,281.00 L361.92,281.10 L363.92,281.20 L365.92,281.31 L367.92,281.43 L369.92,281.55 L371.92,281.68 L373.91,281.80 L375.91,281.93 L377.91,282.06 L379.91,282.19 L381.91,282.33 L383.91,282.46 L385.91,282.60 L387.91,282.74 L389.90,282.89 L391.90,283.04 L393.90,283.19 L395.90,283.34 L397.90,283.49" fill="none" stroke="#ff0000" stroke-width="1.0" stroke-dasharray="5 6.4"/>
<path d="M58.10,351.99 L60.10,351.70 L62.10,351.42 L64.10,351.14 L66.10,350.86 L68.09,350.58 L70.09,350.29 L72.09,350.01 L74.09,349.73 L76.09,349.44 L78.09,349.16 L80.09,348.87 L82.09,348.58 L84.08,348.30 L86.08,348.01 L88.08,347.72 L90.08,347.44 L92.08,347.15 L94.08,346.86 L96.08,346.57 L98.08,346.28 L100.08,345.99 L102.07,345.71 L104.07,345.44 L106.07,345.18 L108.07,344.92 L110.07,344.68 L112.07,344.44 L114.07,344.21 L116.07,343.97 L118.06,343.74 L120.06,343.51 L122.06,343.27 L124.06,343.03 L126.06,342.78 L128.06,342.52 L130.06,342.25 L132.06,341.97 L134.06,341.67 L136.05,341.36 L138.05,341.03 L140.05,340.68 L142.05,340.31 L144.05,339.92 L146.05,339.50 L148.05,339.06 L150.05,338.59 L152.04,337.95 L154.04,337.11 L156.04,336.17 L158.04,335.26 L160.04,334.49 L162.04,333.84 L164.04,333.22 L166.04,332.64 L168.04,332.08 L170.03,331.55 L172.03,331.03 L174.03,330.52 L176.03,330.02 L178.03,329.52 L180.03,329.02 L182.03,328.51 L184.03,327.99 L186.02,327.46 L188.02,326.92 L190.02,326.38 L192.02,325.83 L194.02,325.29 L196.02,324.75 L198.02,324.22 L200.02,323.71 L202.02,323.20 L204.01,322.71 L206.01,322.24 L208.01,321.80 L210.01,321.38 L212.01,320.97 L214.01,320.59 L216.01,320.22 L218.01,319.86 L220.00,319.51 L222.00,319.16 L224.00,318.81 L226.00,318.45 L228.00,318.08 L230.00,317.70 L232.00,317.30 L234.00,316.89 L236.00,316.46 L237.99,316.03 L239.99,315.58 L241.99,315.13 L243.99,314.68 L245.99,314.22 L247.99,313.76 L249.99,313.30 L251.99,312.84 L253.98,312.37 L255.98,311.89 L257.98,311.41 L259.98,310.94 L261.98,310.47 L263.98,310.00 L265.98,309.55 L267.98,309.10 L269.98,308.65 L271.97,308.21 L273.97,307.77 L275.97,307.33 L277.97,306.89 L279.97,306.45 L281.97,306.02 L283.97,305.58 L285.97,305.14 L287.96,304.71 L289.96,304.27 L291.96,303.82 L293.96,303.37 L295.96,302.92 L297.96,302.46 L299.96,302.02 L301.96,301.57 L303.96,301.13 L305.95,300.71 L307.95,300.29 L309.95,299.89 L311.95,299.51 L313.95,299.14 L315.95,298.77 L317.95,298.41 L319.95,298.06 L321.94,297.72 L323.94,297.40 L325.94,297.08 L327.94,296.79 L329.94,296.51 L331.94,296.25 L333.94,296.00 L335.94,295.77 L337.94,295.55 L339.93,295.33 L341.93,295.12 L343.93,294.90 L345.93,294.68 L347.93,294.47 L349.93,294.25 L351.93,294.04 L353.93,293.83 L355.92,293.63 L357.92,293.42 L359.92,293.22 L361.92,293.01 L363.92,292.81 L365.92,292.61 L367.92,292.41 L369.92,292.21 L371.92,292.01 L373.91,291.81 L375.91,291.61 L377.91,291.42 L379.91,291.22 L381.91,291.03 L383.91,290.83 L385.91,290.64 L387.91,290.45 L389.90,290.26 L391.90,290.07 L393.90,289.88 L395.90,289.70 L397.90,289.51" fill="none" stroke="#ff0000" stroke-width="1.0" stroke-dasharray="5 6.4"/>
<path d="M58.10,336.47 L60.10,335.88 L62.10,335.27 L64.10,334.62 L66.10,333.95 L68.09,333.27 L70.09,332.61 L72.09,331.98 L74.09,331.38 L76.09,330.80 L78.09,330.24 L80.09,329.69 L82.09,329.14 L84.08,328.61 L86.08,328.09 L88.08,327.59 L90.08,327.09 L92.08,326.59 L94.08,326.10 L96.08,325.62 L98.08,325.14 L100.08,324.68 L102.07,324.21 L104.07,323.74 L106.07,323.26 L108.07,322.77 L110.07,322.28 L112.07,321.78 L114.07,321.28 L116.07,320.78 L118.06,320.28 L120.06,319.76 L122.06,319.25 L124.06,318.73 L126.06,318.22 L128.06,317.73 L130.06,317.25 L132.06,316.79 L134.06,316.33 L136.05,315.88 L138.05,315.44 L140.05,314.99 L142.05,314.53 L144.05,314.07 L146.05,313.61 L148.05,313.16 L150.05,312.72 L152.04,312.29 L154.04,311.88 L156.04,311.47 L158.04,311.06 L160.04,310.67 L162.04,310.28 L164.04,309.89 L166.04,309.52 L168.04,309.15 L170.03,308.79 L172.03,308.44 L174.03,308.09 L176.03,307.76 L178.03,307.45 L180.03,307.14 L182.03,306.84 L184.03,306.54 L186.02,306.26 L188.02,305.97 L190.02,305.68 L192.02,305.39 L194.02,305.10 L196.02,304.80 L198.02,304.50 L200.02,304.18 L202.02,303.84 L204.01,303.51 L206.01,303.18 L208.01,302.88 L210.01,302.60 L212.01,302.36 L214.01,302.14 L216.01,301.93 L218.01,301.73 L220.00,301.51 L222.00,301.28 L224.00,301.05 L226.00,300.80 L228.00,300.56 L230.00,300.31 L232.00,300.06 L234.00,299.80 L236.00,299.54 L237.99,299.27 L239.99,299.00 L241.99,298.73 L243.99,298.46 L245.99,298.20 L247.99,297.95 L249.99,297.70 L251.99,297.46 L253.98,297.22 L255.98,296.99 L257.98,296.75 L259.98,296.52 L261.98,296.29 L263.98,296.05 L265.98,295.82 L267.98,295.59 L269.98,295.35 L271.97,295.10 L273.97,294.86 L275.97,294.61 L277.97,294.36 L279.97,294.11 L281.97,293.87 L283.97,293.64 L285.97,293.41 L287.96,293.20 L289.96,293.00 L291.96,292.82 L293.96,292.64 L295.96,292.46 L297.96,292.29 L299.96,292.13 L301.96,291.97 L303.96,291.81 L305.95,291.67 L307.95,291.52 L309.95,291.38 L311.95,291.24 L313.95,291.10 L315.95,290.97 L317.95,290.84 L319.95,290.72 L321.94,290.59 L323.94,290.47 L325.94,290.36 L327.94,290.24 L329.94,290.13 L331.94,290.02 L333.94,289.91 L335.94,289.81 L337.94,289.70 L339.93,289.60 L341.93,289.50 L343.93,289.41 L345.93,289.31 L347.93,289.22 L349.93,289.12 L351.93,289.03 L353.93,288.94 L355.92,288.85 L357.92,288.77 L359.92,288.68 L361.92,288.60 L363.92,288.52 L365.92,288.45 L367.92,288.37 L369.92,288.30 L371.92,288.23 L373.91,288.17 L375.91,288.10 L377.91,288.04 L379.91,287.98 L381.91,287.92 L383.91,287.86 L385.91,287.80 L387.91,287.75 L389.90,287.69 L391.90,287.64 L393.90,287.59 L395.90,287.55 L397.90,287.50" fill="none" stroke="#ff0000" stroke-width="2.0" stroke-dasharray="4.4 7.0" stroke-dashoffset="-1"/>
</g>
<path d="M65.1,14.50 H397.9 M65.1,65.52 H397.9 M65.1,91.03 H397.9 M65.1,116.54 H397.9 M65.1,142.05 H397.9 M65.1,167.56 H397.9 M65.1,261.50 H397.9 M65.1,312.90 H397.9 M183.45,1.9 V218.6 M183.45,235.8 V338.6 M208.39,1.9 V218.6 M208.39,235.8 V338.6" stroke="#000" stroke-width="0.8" stroke-dasharray="1.2 2.3" fill="none" opacity="0.3"/>
<rect x="58.1" y="1.9" width="339.79999999999995" height="216.7" fill="none" stroke="#000" stroke-width="1.7"/>
<rect x="58.1" y="235.8" width="339.79999999999995" height="102.80000000000001" fill="none" stroke="#000" stroke-width="1.7"/>
<path d="M58.1,193.07 h3.5 M397.9,193.07 h-3.5 M58.1,167.56 h7.0 M397.9,167.56 h-7.0 M58.1,142.05 h3.5 M397.9,142.05 h-3.5 M58.1,116.54 h7.0 M397.9,116.54 h-7.0 M58.1,91.03 h3.5 M397.9,91.03 h-3.5 M58.1,65.52 h7.0 M397.9,65.52 h-7.0 M58.1,40.01 h3.5 M397.9,40.01 h-3.5 M58.1,14.50 h7.0 M397.9,14.50 h-7.0 M58.1,325.75 h3.5 M397.9,325.75 h-3.5 M58.1,312.90 h7.0 M397.9,312.90 h-7.0 M58.1,300.05 h3.5 M397.9,300.05 h-3.5 M58.1,287.20 h7.0 M397.9,287.20 h-7.0 M58.1,274.35 h3.5 M397.9,274.35 h-3.5 M58.1,261.50 h7.0 M397.9,261.50 h-7.0 M58.1,248.65 h3.5 M397.9,248.65 h-3.5 M152.92,1.9 v3.5 M152.92,218.6 v-3.5 M152.92,235.8 v3.5 M152.92,338.6 v-3.5 M208.39,1.9 v3.5 M208.39,218.6 v-3.5 M208.39,235.8 v3.5 M208.39,338.6 v-3.5 M247.75,1.9 v3.5 M247.75,218.6 v-3.5 M247.75,235.8 v3.5 M247.75,338.6 v-3.5 M278.28,1.9 v3.5 M278.28,218.6 v-3.5 M278.28,235.8 v3.5 M278.28,338.6 v-3.5 M303.22,1.9 v3.5 M303.22,218.6 v-3.5 M303.22,235.8 v3.5 M303.22,338.6 v-3.5 M324.31,1.9 v3.5 M324.31,218.6 v-3.5 M324.31,235.8 v3.5 M324.31,338.6 v-3.5 M342.57,1.9 v3.5 M342.57,218.6 v-3.5 M342.57,235.8 v3.5 M342.57,338.6 v-3.5 M358.69,1.9 v3.5 M358.69,218.6 v-3.5 M358.69,235.8 v3.5 M358.69,338.6 v-3.5 M373.10,1.9 v7.0 M373.10,218.6 v-7.0 M373.10,235.8 v7.0 M373.10,338.6 v-7.0" stroke="#000" stroke-width="1.2" fill="none"/>
<path transform="translate(42.15,19.70) scale(1.0143)" d="M5.03,0 V-9.95 H3.98 C3.7,-8.9 2.9,-8.15 1.42,-8.02 V-7.08 H3.72 V0 Z" fill="#000"/>
<text x="29.81" y="70.72" font-size="14.2px">0</text>
<text x="37.96" y="70.72" font-size="14.2px">.</text>
<text x="42.15" y="70.72" font-size="14.2px">8</text>
<text x="29.81" y="121.74" font-size="14.2px">0</text>
<text x="37.96" y="121.74" font-size="14.2px">.</text>
<text x="42.15" y="121.74" font-size="14.2px">6</text>
<text x="29.81" y="172.76" font-size="14.2px">0</text>
<text x="37.96" y="172.76" font-size="14.2px">.</text>
<text x="42.15" y="172.76" font-size="14.2px">4</text>
<text x="29.81" y="223.78" font-size="14.2px">0</text>
<text x="37.96" y="223.78" font-size="14.2px">.</text>
<text x="42.15" y="223.78" font-size="14.2px">2</text>
<path transform="translate(29.81,241.00) scale(1.0143)" d="M5.03,0 V-9.95 H3.98 C3.7,-8.9 2.9,-8.15 1.42,-8.02 V-7.08 H3.72 V0 Z" fill="#000"/>
<text x="37.96" y="241.00" font-size="14.2px">.</text>
<text x="42.15" y="241.00" font-size="14.2px">2</text>
<path transform="translate(29.81,266.70) scale(1.0143)" d="M5.03,0 V-9.95 H3.98 C3.7,-8.9 2.9,-8.15 1.42,-8.02 V-7.08 H3.72 V0 Z" fill="#000"/>
<text x="37.96" y="266.70" font-size="14.2px">.</text>
<path transform="translate(42.15,266.70) scale(1.0143)" d="M5.03,0 V-9.95 H3.98 C3.7,-8.9 2.9,-8.15 1.42,-8.02 V-7.08 H3.72 V0 Z" fill="#000"/>
<path transform="translate(42.15,292.40) scale(1.0143)" d="M5.03,0 V-9.95 H3.98 C3.7,-8.9 2.9,-8.15 1.42,-8.02 V-7.08 H3.72 V0 Z" fill="#000"/>
<text x="29.81" y="318.10" font-size="14.2px">0</text>
<text x="37.96" y="318.10" font-size="14.2px">.</text>
<text x="42.15" y="318.10" font-size="14.2px">9</text>
<text x="29.81" y="343.80" font-size="14.2px">0</text>
<text x="37.96" y="343.80" font-size="14.2px">.</text>
<text x="42.15" y="343.80" font-size="14.2px">8</text>
<path transform="translate(52.32,358.20) scale(1.0000)" d="M5.03,0 V-9.95 H3.98 C3.7,-8.9 2.9,-8.15 1.42,-8.02 V-7.08 H3.72 V0 Z" fill="#000"/>
<text x="60.10" y="358.20" font-size="14.0px">0</text>
<path transform="translate(363.92,358.20) scale(1.0000)" d="M5.03,0 V-9.95 H3.98 C3.7,-8.9 2.9,-8.15 1.42,-8.02 V-7.08 H3.72 V0 Z" fill="#000"/>
<text x="371.71" y="358.20" font-size="14.0px">0</text>
<text x="379.49" y="358.20" font-size="14.0px">0</text>
<text x="191" y="370" font-size="14px">p<tspan font-size="11.2px" dy="4.6">t,veto</tspan><tspan dy="-4.6"> [GeV]</tspan></text>
<text transform="translate(12.5,140.5) rotate(-90)" font-size="14.3px">&#949;<tspan font-size="11.2px" dy="4.8">R</tspan><tspan dy="-4.8">(p</tspan><tspan font-size="11.2px" dy="4.8">t,veto</tspan><tspan dy="-4.8">)</tspan></text>
<text transform="translate(12.5,364.2) rotate(-90)" font-size="14.15px">&#949;<tspan font-size="11.2px" dy="4.8">R</tspan><tspan dy="-4.8">(p</tspan><tspan font-size="11.2px" dy="4.8">t,veto</tspan><tspan dy="-4.8">) / &#949;</tspan><tspan font-size="11.2px" dy="4.8">R=0.5</tspan><tspan dy="-4.8">(p</tspan><tspan font-size="11.2px" dy="4.8">t,veto</tspan><tspan dy="-4.8">)</tspan></text>
<text x="64.8" y="27.3" font-size="12.5px">gg</text>
<path d="M83.2,23.2 H94.0 M90.6,20.4 Q92.0,22.6 94.6,23.2 Q92.0,23.8 90.6,26.0" stroke="#000" stroke-width="0.9" fill="none" stroke-linejoin="round"/>
<text x="98.6" y="27.3" font-size="12.5px">H</text>
<text x="108.3" y="27.3" font-size="12.5px">, m<tspan font-size="10px" dy="3.9">H</tspan></text>
<text x="136.3" y="27.3" font-size="12.5px">=</text>
<path transform="translate(147.5,27.3) scale(0.8929)" d="M5.03,0 V-9.95 H3.98 C3.7,-8.9 2.9,-8.15 1.42,-8.02 V-7.08 H3.72 V0 Z" fill="#000"/>
<text x="154.45" y="27.3" font-size="12.5px">25 GeV</text>
<text x="64.5" y="42.5" font-size="12.5px" textLength="75.6" lengthAdjust="spacing">NNLL+NNLO</text>
<g font-size="8.35px" style="fill:#8a8a8a">
<text x="65.0" y="53.8" style="fill:#8a8a8a">pp, 8 TeV</text>
<text x="65.0" y="63.8" style="fill:#8a8a8a">m<tspan font-size="6.7px" dy="2.2">H</tspan><tspan dy="-2.2"> /4 &lt; &#956;</tspan><tspan font-size="6.7px" dy="2.2">R,F</tspan><tspan dy="-2.2"> , Q &lt; m</tspan><tspan font-size="6.7px" dy="2.2">H</tspan><tspan dy="-2.2"> , schemes a,b,c</tspan></text>
<text x="65.0" y="76.3" style="fill:#8a8a8a">MSTW2008 NNLO PDFs</text>
<text x="65.0" y="86.6" style="fill:#8a8a8a">anti-k<tspan font-size="6.7px" dy="2.2">t</tspan><tspan dy="-2.2"> jets</tspan></text>
</g>
<g font-size="14px" text-anchor="end">
<text x="330.6" y="164.0">R=0.4</text>
<text x="330.6" y="185.3">R=0.5</text>
<text x="330.6" y="206.3">R=1.0</text>
</g>
<rect x="339.4" y="153.6" width="42.2" height="10.6" fill="#80ff80"/>
<path d="M339.6,180.3 H377.6" stroke="#00008b" stroke-width="2.0" stroke-dasharray="10.4 4.5" fill="none"/>
<clipPath id="clg"><rect x="339.4" y="195.4" width="42.200000000000045" height="11.299999999999983"/></clipPath>
<path d="M295.90,181.10 L335.90,221.10 M295.90,221.10 L335.90,181.10 M309.50,181.10 L349.50,221.10 M309.50,221.10 L349.50,181.10 M323.10,181.10 L363.10,221.10 M323.10,221.10 L363.10,181.10 M336.70,181.10 L376.70,221.10 M336.70,221.10 L376.70,181.10 M350.30,181.10 L390.30,221.10 M350.30,221.10 L390.30,181.10 M363.90,181.10 L403.90,221.10 M363.90,221.10 L403.90,181.10 M377.50,181.10 L417.50,221.10 M377.50,221.10 L417.50,181.10" clip-path="url(#clg)" stroke="#ff0000" stroke-width="0.7" fill="none"/>
<rect x="339.4" y="195.4" width="42.200000000000045" height="11.299999999999983" fill="none" stroke="#ff0000" stroke-width="0.8"/>
</svg></body></html>
